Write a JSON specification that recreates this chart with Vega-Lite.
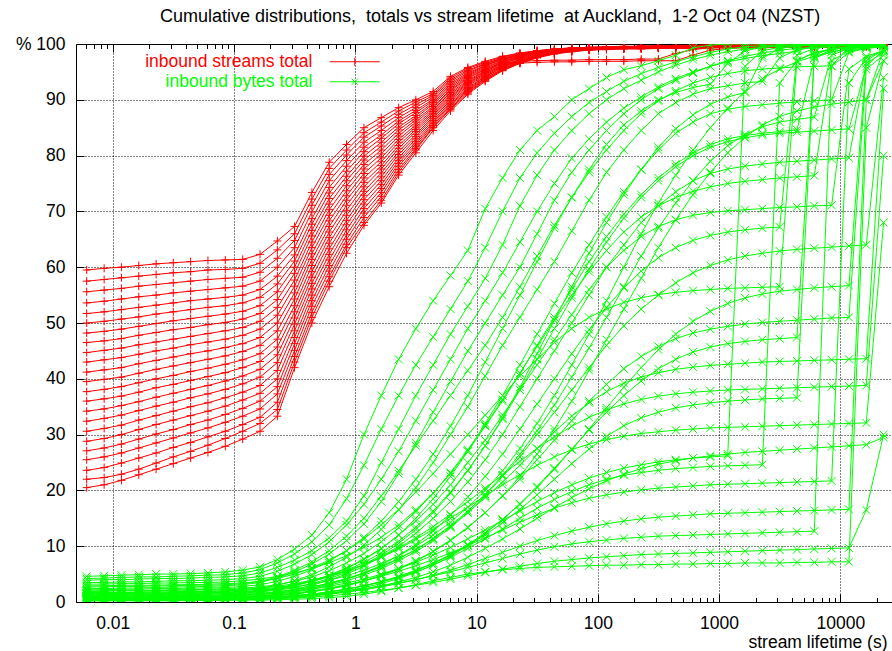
{
"$schema": "https://vega.github.io/schema/vega-lite/v6.json",
"width": 816, "height": 558,
"autosize": {"type": "none"},
"padding": {"left": 76, "top": 44, "right": 0, "bottom": 49},
"background": "white",
"config": {"view": {"stroke": null}, "font": "Liberation Sans"},
"title": {"text": "Cumulative distributions,\u00a0 totals vs stream lifetime\u00a0 at Auckland,\u00a0 1-2 Oct 04 (NZST)", "font": "Liberation Sans", "fontSize": 18, "fontWeight": "normal", "color": "#000", "anchor": "middle", "offset": 20, "baseline": "alphabetic", "dx": 6, "dy": 25},
"datasets": {
"streams": [
{"s":1,"x":0.0061,"y":20.5},{"s":1,"x":0.0085,"y":21},{"s":1,"x":0.0118,"y":21.8},{"s":1,"x":0.0164,"y":22.8},{"s":1,"x":0.0228,"y":23.8},{"s":1,"x":0.0316,"y":24.8},{"s":1,"x":0.0439,"y":25.8},{"s":1,"x":0.061,"y":26.8},{"s":1,"x":0.0848,"y":27.9},{"s":1,"x":0.118,"y":29.2},{"s":1,"x":0.164,"y":30.6},{"s":1,"x":0.228,"y":33.3},{"s":1,"x":0.316,"y":42},{"s":1,"x":0.439,"y":50},{"s":1,"x":0.61,"y":56.5},{"s":1,"x":0.848,"y":62.5},{"s":1,"x":1.18,"y":67.5},{"s":1,"x":1.64,"y":71.5},{"s":1,"x":2.28,"y":76.5},{"s":1,"x":3.16,"y":80.5},{"s":1,"x":4.39,"y":84.5},{"s":1,"x":6.1,"y":88},{"s":1,"x":8.48,"y":91},{"s":1,"x":11.8,"y":93.3},{"s":1,"x":16.4,"y":95.2},{"s":1,"x":22.8,"y":96.5},{"s":1,"x":31.6,"y":97.5},{"s":1,"x":43.9,"y":98.2},{"s":1,"x":61,"y":98.6},{"s":1,"x":84.8,"y":98.9},{"s":1,"x":118,"y":99},{"s":1,"x":164,"y":99.1},{"s":1,"x":228,"y":99.1},{"s":1,"x":316,"y":99.2},{"s":1,"x":439,"y":99.2},{"s":1,"x":610,"y":99.2},{"s":1,"x":848,"y":99.3},{"s":1,"x":1179,"y":99.3},{"s":1,"x":1638,"y":99.3},{"s":1,"x":2276,"y":99.3},{"s":1,"x":3162,"y":99.4},{"s":1,"x":4394,"y":99.4},{"s":1,"x":6105,"y":99.4},{"s":1,"x":8483,"y":99.4},{"s":1,"x":11788,"y":99.4},{"s":1,"x":16379,"y":99.5},{"s":1,"x":22758,"y":99.5},
{"s":2,"x":0.0061,"y":23.6},{"s":2,"x":0.0085,"y":24.1},{"s":2,"x":0.0118,"y":24.9},{"s":2,"x":0.0164,"y":25.8},{"s":2,"x":0.0228,"y":26.7},{"s":2,"x":0.0316,"y":27.7},{"s":2,"x":0.0439,"y":28.6},{"s":2,"x":0.061,"y":29.6},{"s":2,"x":0.0848,"y":30.6},{"s":2,"x":0.118,"y":31.8},{"s":2,"x":0.164,"y":33.1},{"s":2,"x":0.228,"y":35.8},{"s":2,"x":0.316,"y":44},{"s":2,"x":0.439,"y":51.9},{"s":2,"x":0.61,"y":58.3},{"s":2,"x":0.848,"y":64.1},{"s":2,"x":1.18,"y":68.9},{"s":2,"x":1.64,"y":72.7},{"s":2,"x":2.28,"y":77.5},{"s":2,"x":3.16,"y":81.3},{"s":2,"x":4.39,"y":85.1},{"s":2,"x":6.1,"y":88.5},{"s":2,"x":8.48,"y":91.4},{"s":2,"x":11.8,"y":93.6},{"s":2,"x":16.4,"y":95.4},{"s":2,"x":22.8,"y":96.7},{"s":2,"x":31.6,"y":97.6},{"s":2,"x":43.9,"y":98.3},{"s":2,"x":61,"y":98.7},{"s":2,"x":84.8,"y":98.9},{"s":2,"x":118,"y":99.1},{"s":2,"x":164,"y":99.2},{"s":2,"x":228,"y":99.2},{"s":2,"x":316,"y":99.3},{"s":2,"x":439,"y":99.3},{"s":2,"x":610,"y":99.4},{"s":2,"x":848,"y":99.4},{"s":2,"x":1179,"y":99.4},{"s":2,"x":1638,"y":99.5},{"s":2,"x":2276,"y":99.5},{"s":2,"x":3162,"y":99.5},{"s":2,"x":4394,"y":99.5},{"s":2,"x":6105,"y":99.6},{"s":2,"x":8483,"y":99.6},{"s":2,"x":11788,"y":99.6},{"s":2,"x":16379,"y":99.6},{"s":2,"x":22758,"y":99.6},
{"s":3,"x":0.0061,"y":27.1},{"s":3,"x":0.0085,"y":27.6},{"s":3,"x":0.0118,"y":28.3},{"s":3,"x":0.0164,"y":29.2},{"s":3,"x":0.0228,"y":30.1},{"s":3,"x":0.0316,"y":30.9},{"s":3,"x":0.0439,"y":31.8},{"s":3,"x":0.061,"y":32.6},{"s":3,"x":0.0848,"y":33.6},{"s":3,"x":0.118,"y":34.7},{"s":3,"x":0.164,"y":36},{"s":3,"x":0.228,"y":38.6},{"s":3,"x":0.316,"y":46.3},{"s":3,"x":0.439,"y":54},{"s":3,"x":0.61,"y":60.3},{"s":3,"x":0.848,"y":65.8},{"s":3,"x":1.18,"y":70.5},{"s":3,"x":1.64,"y":74.1},{"s":3,"x":2.28,"y":78.6},{"s":3,"x":3.16,"y":82.1},{"s":3,"x":4.39,"y":85.7},{"s":3,"x":6.1,"y":89.1},{"s":3,"x":8.48,"y":91.8},{"s":3,"x":11.8,"y":93.9},{"s":3,"x":16.4,"y":95.6},{"s":3,"x":22.8,"y":96.8},{"s":3,"x":31.6,"y":97.7},{"s":3,"x":43.9,"y":98.4},{"s":3,"x":61,"y":98.7},{"s":3,"x":84.8,"y":99},{"s":3,"x":118,"y":99.2},{"s":3,"x":164,"y":99.3},{"s":3,"x":228,"y":99.4},{"s":3,"x":316,"y":99.4},{"s":3,"x":439,"y":99.5},{"s":3,"x":610,"y":99.5},{"s":3,"x":848,"y":99.6},{"s":3,"x":1179,"y":99.6},{"s":3,"x":1638,"y":99.6},{"s":3,"x":2276,"y":99.7},{"s":3,"x":3162,"y":99.7},{"s":3,"x":4394,"y":99.7},{"s":3,"x":6105,"y":99.7},{"s":3,"x":8483,"y":99.8},{"s":3,"x":11788,"y":99.8},{"s":3,"x":16379,"y":99.8},{"s":3,"x":22758,"y":99.8},
{"s":4,"x":0.0061,"y":30.6},{"s":4,"x":0.0085,"y":31.1},{"s":4,"x":0.0118,"y":31.7},{"s":4,"x":0.0164,"y":32.6},{"s":4,"x":0.0228,"y":33.4},{"s":4,"x":0.0316,"y":34.2},{"s":4,"x":0.0439,"y":35},{"s":4,"x":0.061,"y":35.7},{"s":4,"x":0.0848,"y":36.6},{"s":4,"x":0.118,"y":37.6},{"s":4,"x":0.164,"y":38.8},{"s":4,"x":0.228,"y":41.5},{"s":4,"x":0.316,"y":48.6},{"s":4,"x":0.439,"y":56.1},{"s":4,"x":0.61,"y":62.3},{"s":4,"x":0.848,"y":67.6},{"s":4,"x":1.18,"y":72.1},{"s":4,"x":1.64,"y":75.5},{"s":4,"x":2.28,"y":79.6},{"s":4,"x":3.16,"y":83},{"s":4,"x":4.39,"y":86.3},{"s":4,"x":6.1,"y":89.6},{"s":4,"x":8.48,"y":92.2},{"s":4,"x":11.8,"y":94.2},{"s":4,"x":16.4,"y":95.9},{"s":4,"x":22.8,"y":97},{"s":4,"x":31.6,"y":97.8},{"s":4,"x":43.9,"y":98.4},{"s":4,"x":61,"y":98.8},{"s":4,"x":84.8,"y":99},{"s":4,"x":118,"y":99.1},{"s":4,"x":164,"y":99.2},{"s":4,"x":228,"y":99.3},{"s":4,"x":316,"y":99.3},{"s":4,"x":439,"y":99.4},{"s":4,"x":610,"y":99.4},{"s":4,"x":848,"y":99.5},{"s":4,"x":1179,"y":99.5},{"s":4,"x":1638,"y":99.5},{"s":4,"x":2276,"y":99.6},{"s":4,"x":3162,"y":99.6},{"s":4,"x":4394,"y":99.6},{"s":4,"x":6105,"y":99.6},{"s":4,"x":8483,"y":99.7},{"s":4,"x":11788,"y":99.7},{"s":4,"x":16379,"y":99.7},{"s":4,"x":22758,"y":99.7},
{"s":5,"x":0.0061,"y":34.2},{"s":5,"x":0.0085,"y":34.6},{"s":5,"x":0.0118,"y":35.2},{"s":5,"x":0.0164,"y":35.9},{"s":5,"x":0.0228,"y":36.7},{"s":5,"x":0.0316,"y":37.4},{"s":5,"x":0.0439,"y":38.1},{"s":5,"x":0.061,"y":38.8},{"s":5,"x":0.0848,"y":39.6},{"s":5,"x":0.118,"y":40.5},{"s":5,"x":0.164,"y":41.7},{"s":5,"x":0.228,"y":44.3},{"s":5,"x":0.316,"y":50.9},{"s":5,"x":0.439,"y":58.2},{"s":5,"x":0.61,"y":64.3},{"s":5,"x":0.848,"y":69.3},{"s":5,"x":1.18,"y":73.6},{"s":5,"x":1.64,"y":76.9},{"s":5,"x":2.28,"y":80.7},{"s":5,"x":3.16,"y":83.8},{"s":5,"x":4.39,"y":87},{"s":5,"x":6.1,"y":90.2},{"s":5,"x":8.48,"y":92.7},{"s":5,"x":11.8,"y":94.6},{"s":5,"x":16.4,"y":96.1},{"s":5,"x":22.8,"y":97.2},{"s":5,"x":31.6,"y":97.9},{"s":5,"x":43.9,"y":98.5},{"s":5,"x":61,"y":98.8},{"s":5,"x":84.8,"y":99.1},{"s":5,"x":118,"y":99.2},{"s":5,"x":164,"y":99.3},{"s":5,"x":228,"y":99.3},{"s":5,"x":316,"y":99.4},{"s":5,"x":439,"y":99.5},{"s":5,"x":610,"y":99.5},{"s":5,"x":848,"y":99.6},{"s":5,"x":1179,"y":99.6},{"s":5,"x":1638,"y":99.7},{"s":5,"x":2276,"y":99.7},{"s":5,"x":3162,"y":99.7},{"s":5,"x":4394,"y":99.8},{"s":5,"x":6105,"y":99.8},{"s":5,"x":8483,"y":99.8},{"s":5,"x":11788,"y":99.8},{"s":5,"x":16379,"y":99.9},{"s":5,"x":22758,"y":99.9},
{"s":6,"x":0.0061,"y":37.7},{"s":6,"x":0.0085,"y":38.1},{"s":6,"x":0.0118,"y":38.6},{"s":6,"x":0.0164,"y":39.3},{"s":6,"x":0.0228,"y":40},{"s":6,"x":0.0316,"y":40.6},{"s":6,"x":0.0439,"y":41.3},{"s":6,"x":0.061,"y":41.9},{"s":6,"x":0.0848,"y":42.6},{"s":6,"x":0.118,"y":43.4},{"s":6,"x":0.164,"y":44.5},{"s":6,"x":0.228,"y":47.1},{"s":6,"x":0.316,"y":53.1},{"s":6,"x":0.439,"y":60.3},{"s":6,"x":0.61,"y":66.3},{"s":6,"x":0.848,"y":71.1},{"s":6,"x":1.18,"y":75.2},{"s":6,"x":1.64,"y":78.2},{"s":6,"x":2.28,"y":81.8},{"s":6,"x":3.16,"y":84.7},{"s":6,"x":4.39,"y":87.6},{"s":6,"x":6.1,"y":90.7},{"s":6,"x":8.48,"y":93.1},{"s":6,"x":11.8,"y":94.9},{"s":6,"x":16.4,"y":96.3},{"s":6,"x":22.8,"y":96.6},{"s":6,"x":31.6,"y":96.7},{"s":6,"x":43.9,"y":96.8},{"s":6,"x":61,"y":96.8},{"s":6,"x":84.8,"y":96.9},{"s":6,"x":118,"y":96.9},{"s":6,"x":164,"y":96.9},{"s":6,"x":228,"y":97},{"s":6,"x":316,"y":97},{"s":6,"x":439,"y":97},{"s":6,"x":610,"y":98},{"s":6,"x":848,"y":98.9},{"s":6,"x":1179,"y":99.2},{"s":6,"x":1638,"y":99.4},{"s":6,"x":2276,"y":99.5},{"s":6,"x":3162,"y":99.5},{"s":6,"x":4394,"y":99.6},{"s":6,"x":6105,"y":99.6},{"s":6,"x":8483,"y":99.6},{"s":6,"x":11788,"y":99.7},{"s":6,"x":16379,"y":99.7},{"s":6,"x":22758,"y":99.7},
{"s":7,"x":0.0061,"y":41.2},{"s":7,"x":0.0085,"y":41.6},{"s":7,"x":0.0118,"y":42},{"s":7,"x":0.0164,"y":42.7},{"s":7,"x":0.0228,"y":43.3},{"s":7,"x":0.0316,"y":43.9},{"s":7,"x":0.0439,"y":44.5},{"s":7,"x":0.061,"y":45},{"s":7,"x":0.0848,"y":45.6},{"s":7,"x":0.118,"y":46.3},{"s":7,"x":0.164,"y":47.4},{"s":7,"x":0.228,"y":50},{"s":7,"x":0.316,"y":55.4},{"s":7,"x":0.439,"y":62.4},{"s":7,"x":0.61,"y":68.3},{"s":7,"x":0.848,"y":72.8},{"s":7,"x":1.18,"y":76.8},{"s":7,"x":1.64,"y":79.6},{"s":7,"x":2.28,"y":82.9},{"s":7,"x":3.16,"y":85.5},{"s":7,"x":4.39,"y":88.2},{"s":7,"x":6.1,"y":91.3},{"s":7,"x":8.48,"y":93.5},{"s":7,"x":11.8,"y":95.2},{"s":7,"x":16.4,"y":96.6},{"s":7,"x":22.8,"y":97.5},{"s":7,"x":31.6,"y":98.2},{"s":7,"x":43.9,"y":98.7},{"s":7,"x":61,"y":99},{"s":7,"x":84.8,"y":99.2},{"s":7,"x":118,"y":99.3},{"s":7,"x":164,"y":99.4},{"s":7,"x":228,"y":99.5},{"s":7,"x":316,"y":99.5},{"s":7,"x":439,"y":99.6},{"s":7,"x":610,"y":99.6},{"s":7,"x":848,"y":99.7},{"s":7,"x":1179,"y":99.7},{"s":7,"x":1638,"y":99.7},{"s":7,"x":2276,"y":99.8},{"s":7,"x":3162,"y":99.8},{"s":7,"x":4394,"y":99.8},{"s":7,"x":6105,"y":99.8},{"s":7,"x":8483,"y":99.9},{"s":7,"x":11788,"y":99.9},{"s":7,"x":16379,"y":99.9},{"s":7,"x":22758,"y":99.9},
{"s":8,"x":0.0061,"y":44.7},{"s":8,"x":0.0085,"y":45.1},{"s":8,"x":0.0118,"y":45.5},{"s":8,"x":0.0164,"y":46.1},{"s":8,"x":0.0228,"y":46.6},{"s":8,"x":0.0316,"y":47.1},{"s":8,"x":0.0439,"y":47.6},{"s":8,"x":0.061,"y":48.1},{"s":8,"x":0.0848,"y":48.6},{"s":8,"x":0.118,"y":49.2},{"s":8,"x":0.164,"y":50.3},{"s":8,"x":0.228,"y":52.8},{"s":8,"x":0.316,"y":57.7},{"s":8,"x":0.439,"y":64.5},{"s":8,"x":0.61,"y":70.3},{"s":8,"x":0.848,"y":74.6},{"s":8,"x":1.18,"y":78.4},{"s":8,"x":1.64,"y":81},{"s":8,"x":2.28,"y":84},{"s":8,"x":3.16,"y":86.4},{"s":8,"x":4.39,"y":88.8},{"s":8,"x":6.1,"y":91.8},{"s":8,"x":8.48,"y":94},{"s":8,"x":11.8,"y":95.5},{"s":8,"x":16.4,"y":96.6},{"s":8,"x":22.8,"y":96.9},{"s":8,"x":31.6,"y":97},{"s":8,"x":43.9,"y":97.1},{"s":8,"x":61,"y":97.1},{"s":8,"x":84.8,"y":97.2},{"s":8,"x":118,"y":97.2},{"s":8,"x":164,"y":97.2},{"s":8,"x":228,"y":97.3},{"s":8,"x":316,"y":97.3},{"s":8,"x":439,"y":98.3},{"s":8,"x":610,"y":99},{"s":8,"x":848,"y":99.3},{"s":8,"x":1179,"y":99.4},{"s":8,"x":1638,"y":99.5},{"s":8,"x":2276,"y":99.6},{"s":8,"x":3162,"y":99.6},{"s":8,"x":4394,"y":99.7},{"s":8,"x":6105,"y":99.7},{"s":8,"x":8483,"y":99.7},{"s":8,"x":11788,"y":99.8},{"s":8,"x":16379,"y":99.8},{"s":8,"x":22758,"y":99.8},
{"s":9,"x":0.0061,"y":48.2},{"s":9,"x":0.0085,"y":48.5},{"s":9,"x":0.0118,"y":48.9},{"s":9,"x":0.0164,"y":49.4},{"s":9,"x":0.0228,"y":49.9},{"s":9,"x":0.0316,"y":50.4},{"s":9,"x":0.0439,"y":50.8},{"s":9,"x":0.061,"y":51.2},{"s":9,"x":0.0848,"y":51.6},{"s":9,"x":0.118,"y":52.1},{"s":9,"x":0.164,"y":53.1},{"s":9,"x":0.228,"y":55.6},{"s":9,"x":0.316,"y":60},{"s":9,"x":0.439,"y":66.6},{"s":9,"x":0.61,"y":72.3},{"s":9,"x":0.848,"y":76.3},{"s":9,"x":1.18,"y":79.9},{"s":9,"x":1.64,"y":82.4},{"s":9,"x":2.28,"y":85.1},{"s":9,"x":3.16,"y":87.2},{"s":9,"x":4.39,"y":89.5},{"s":9,"x":6.1,"y":92.4},{"s":9,"x":8.48,"y":94.4},{"s":9,"x":11.8,"y":95.9},{"s":9,"x":16.4,"y":97},{"s":9,"x":22.8,"y":97.8},{"s":9,"x":31.6,"y":98.4},{"s":9,"x":43.9,"y":98.8},{"s":9,"x":61,"y":99.1},{"s":9,"x":84.8,"y":99.3},{"s":9,"x":118,"y":99.3},{"s":9,"x":164,"y":99.4},{"s":9,"x":228,"y":99.4},{"s":9,"x":316,"y":99.5},{"s":9,"x":439,"y":99.5},{"s":9,"x":610,"y":99.6},{"s":9,"x":848,"y":99.6},{"s":9,"x":1179,"y":99.6},{"s":9,"x":1638,"y":99.7},{"s":9,"x":2276,"y":99.7},{"s":9,"x":3162,"y":99.7},{"s":9,"x":4394,"y":99.7},{"s":9,"x":6105,"y":99.8},{"s":9,"x":8483,"y":99.8},{"s":9,"x":11788,"y":99.8},{"s":9,"x":16379,"y":99.8},{"s":9,"x":22758,"y":99.8},
{"s":10,"x":0.0061,"y":51.7},{"s":10,"x":0.0085,"y":52},{"s":10,"x":0.0118,"y":52.4},{"s":10,"x":0.0164,"y":52.8},{"s":10,"x":0.0228,"y":53.2},{"s":10,"x":0.0316,"y":53.6},{"s":10,"x":0.0439,"y":54},{"s":10,"x":0.061,"y":54.3},{"s":10,"x":0.0848,"y":54.6},{"s":10,"x":0.118,"y":55},{"s":10,"x":0.164,"y":56},{"s":10,"x":0.228,"y":58.4},{"s":10,"x":0.316,"y":62.2},{"s":10,"x":0.439,"y":68.7},{"s":10,"x":0.61,"y":74.3},{"s":10,"x":0.848,"y":78.1},{"s":10,"x":1.18,"y":81.5},{"s":10,"x":1.64,"y":83.7},{"s":10,"x":2.28,"y":86.2},{"s":10,"x":3.16,"y":88.1},{"s":10,"x":4.39,"y":90.1},{"s":10,"x":6.1,"y":93},{"s":10,"x":8.48,"y":94.8},{"s":10,"x":11.8,"y":96.2},{"s":10,"x":16.4,"y":97.3},{"s":10,"x":22.8,"y":98},{"s":10,"x":31.6,"y":98.5},{"s":10,"x":43.9,"y":98.9},{"s":10,"x":61,"y":99.2},{"s":10,"x":84.8,"y":99.3},{"s":10,"x":118,"y":99.4},{"s":10,"x":164,"y":99.5},{"s":10,"x":228,"y":99.5},{"s":10,"x":316,"y":99.6},{"s":10,"x":439,"y":99.6},{"s":10,"x":610,"y":99.7},{"s":10,"x":848,"y":99.7},{"s":10,"x":1179,"y":99.8},{"s":10,"x":1638,"y":99.8},{"s":10,"x":2276,"y":99.8},{"s":10,"x":3162,"y":99.8},{"s":10,"x":4394,"y":99.9},{"s":10,"x":6105,"y":99.9},{"s":10,"x":8483,"y":99.9},{"s":10,"x":11788,"y":99.9},{"s":10,"x":16379,"y":99.9},{"s":10,"x":22758,"y":99.9},
{"s":11,"x":0.0061,"y":55.6},{"s":11,"x":0.0085,"y":55.9},{"s":11,"x":0.0118,"y":56.2},{"s":11,"x":0.0164,"y":56.6},{"s":11,"x":0.0228,"y":56.9},{"s":11,"x":0.0316,"y":57.2},{"s":11,"x":0.0439,"y":57.5},{"s":11,"x":0.061,"y":57.8},{"s":11,"x":0.0848,"y":58},{"s":11,"x":0.118,"y":58.2},{"s":11,"x":0.164,"y":59.1},{"s":11,"x":0.228,"y":61.6},{"s":11,"x":0.316,"y":64.8},{"s":11,"x":0.439,"y":71.1},{"s":11,"x":0.61,"y":76.6},{"s":11,"x":0.848,"y":80.1},{"s":11,"x":1.18,"y":83.3},{"s":11,"x":1.64,"y":85.3},{"s":11,"x":2.28,"y":87.4},{"s":11,"x":3.16,"y":89.1},{"s":11,"x":4.39,"y":90.8},{"s":11,"x":6.1,"y":93.6},{"s":11,"x":8.48,"y":95.3},{"s":11,"x":11.8,"y":96.5},{"s":11,"x":16.4,"y":97.5},{"s":11,"x":22.8,"y":98.2},{"s":11,"x":31.6,"y":98.7},{"s":11,"x":43.9,"y":99},{"s":11,"x":61,"y":99.2},{"s":11,"x":84.8,"y":99.4},{"s":11,"x":118,"y":99.4},{"s":11,"x":164,"y":99.5},{"s":11,"x":228,"y":99.6},{"s":11,"x":316,"y":99.6},{"s":11,"x":439,"y":99.7},{"s":11,"x":610,"y":99.7},{"s":11,"x":848,"y":99.7},{"s":11,"x":1179,"y":99.8},{"s":11,"x":1638,"y":99.8},{"s":11,"x":2276,"y":99.8},{"s":11,"x":3162,"y":99.9},{"s":11,"x":4394,"y":99.9},{"s":11,"x":6105,"y":99.9},{"s":11,"x":8483,"y":99.9},{"s":11,"x":11788,"y":99.9},{"s":11,"x":16379,"y":100},{"s":11,"x":22758,"y":100},
{"s":12,"x":0.0061,"y":59.5},{"s":12,"x":0.0085,"y":59.8},{"s":12,"x":0.0118,"y":60},{"s":12,"x":0.0164,"y":60.3},{"s":12,"x":0.0228,"y":60.6},{"s":12,"x":0.0316,"y":60.8},{"s":12,"x":0.0439,"y":61},{"s":12,"x":0.061,"y":61.2},{"s":12,"x":0.0848,"y":61.3},{"s":12,"x":0.118,"y":61.4},{"s":12,"x":0.164,"y":62.3},{"s":12,"x":0.228,"y":64.7},{"s":12,"x":0.316,"y":67.3},{"s":12,"x":0.439,"y":73.4},{"s":12,"x":0.61,"y":78.8},{"s":12,"x":0.848,"y":82},{"s":12,"x":1.18,"y":85},{"s":12,"x":1.64,"y":86.8},{"s":12,"x":2.28,"y":88.6},{"s":12,"x":3.16,"y":90},{"s":12,"x":4.39,"y":91.5},{"s":12,"x":6.1,"y":94.2},{"s":12,"x":8.48,"y":95.8},{"s":12,"x":11.8,"y":96.9},{"s":12,"x":16.4,"y":97.8},{"s":12,"x":22.8,"y":98.4},{"s":12,"x":31.6,"y":98.8},{"s":12,"x":43.9,"y":99.1},{"s":12,"x":61,"y":99.3},{"s":12,"x":84.8,"y":99.4},{"s":12,"x":118,"y":99.5},{"s":12,"x":164,"y":99.5},{"s":12,"x":228,"y":99.6},{"s":12,"x":316,"y":99.6},{"s":12,"x":439,"y":99.7},{"s":12,"x":610,"y":99.7},{"s":12,"x":848,"y":99.8},{"s":12,"x":1179,"y":99.8},{"s":12,"x":1638,"y":99.8},{"s":12,"x":2276,"y":99.8},{"s":12,"x":3162,"y":99.8},{"s":12,"x":4394,"y":99.9},{"s":12,"x":6105,"y":99.9},{"s":12,"x":8483,"y":99.9},{"s":12,"x":11788,"y":99.9},{"s":12,"x":16379,"y":99.9},{"s":12,"x":22758,"y":99.9},
{"s":13,"x":0.0061,"y":22},{"s":13,"x":0.0085,"y":22.3},{"s":13,"x":0.0118,"y":22.9},{"s":13,"x":0.0164,"y":23.8},{"s":13,"x":0.0228,"y":24.9},{"s":13,"x":0.0316,"y":26},{"s":13,"x":0.0439,"y":27},{"s":13,"x":0.061,"y":28.1},{"s":13,"x":0.0848,"y":29.3},{"s":13,"x":0.118,"y":30.6},{"s":13,"x":0.164,"y":32},{"s":13,"x":0.228,"y":34.5},{"s":13,"x":0.316,"y":43},{"s":13,"x":0.439,"y":51},{"s":13,"x":0.61,"y":57.5},{"s":13,"x":0.848,"y":63.5},{"s":13,"x":1.18,"y":68},{"s":13,"x":1.64,"y":72},{"s":13,"x":2.28,"y":77},{"s":13,"x":3.16,"y":81},{"s":13,"x":4.39,"y":85},{"s":13,"x":6.1,"y":88.3},{"s":13,"x":8.48,"y":91.2},{"s":13,"x":11.8,"y":93.5},{"s":13,"x":16.4,"y":95.3},{"s":13,"x":22.8,"y":96.6},{"s":13,"x":31.6,"y":97.6},{"s":13,"x":43.9,"y":98.3},{"s":13,"x":61,"y":98.7},{"s":13,"x":84.8,"y":99},{"s":13,"x":118,"y":99.1},{"s":13,"x":164,"y":99.2},{"s":13,"x":228,"y":99.2},{"s":13,"x":316,"y":99.3},{"s":13,"x":439,"y":99.3},{"s":13,"x":610,"y":99.4},{"s":13,"x":848,"y":99.4},{"s":13,"x":1179,"y":99.4},{"s":13,"x":1638,"y":99.5},{"s":13,"x":2276,"y":99.5},{"s":13,"x":3162,"y":99.5},{"s":13,"x":4394,"y":99.5},{"s":13,"x":6105,"y":99.6},{"s":13,"x":8483,"y":99.6},{"s":13,"x":11788,"y":99.6},{"s":13,"x":16379,"y":99.6},{"s":13,"x":22758,"y":99.6},
{"s":14,"x":0.0061,"y":25.5},{"s":14,"x":0.0085,"y":26},{"s":14,"x":0.0118,"y":26.7},{"s":14,"x":0.0164,"y":27.6},{"s":14,"x":0.0228,"y":28.5},{"s":14,"x":0.0316,"y":29.4},{"s":14,"x":0.0439,"y":30.3},{"s":14,"x":0.061,"y":31.2},{"s":14,"x":0.0848,"y":32.2},{"s":14,"x":0.118,"y":33.3},{"s":14,"x":0.164,"y":34.6},{"s":14,"x":0.228,"y":37.3},{"s":14,"x":0.316,"y":45.1},{"s":14,"x":0.439,"y":53},{"s":14,"x":0.61,"y":59.3},{"s":14,"x":0.848,"y":65},{"s":14,"x":1.18,"y":69.7},{"s":14,"x":1.64,"y":73.4},{"s":14,"x":2.28,"y":78.1},{"s":14,"x":3.16,"y":81.7},{"s":14,"x":4.39,"y":85.4},{"s":14,"x":6.1,"y":88.8},{"s":14,"x":8.48,"y":91.6},{"s":14,"x":11.8,"y":93.8},{"s":14,"x":16.4,"y":95.5},{"s":14,"x":22.8,"y":96.8},{"s":14,"x":31.6,"y":97.7},{"s":14,"x":43.9,"y":98.3},{"s":14,"x":61,"y":98.7},{"s":14,"x":84.8,"y":99},{"s":14,"x":118,"y":99.1},{"s":14,"x":164,"y":99.2},{"s":14,"x":228,"y":99.3},{"s":14,"x":316,"y":99.3},{"s":14,"x":439,"y":99.4},{"s":14,"x":610,"y":99.4},{"s":14,"x":848,"y":99.5},{"s":14,"x":1179,"y":99.5},{"s":14,"x":1638,"y":99.5},{"s":14,"x":2276,"y":99.6},{"s":14,"x":3162,"y":99.6},{"s":14,"x":4394,"y":99.6},{"s":14,"x":6105,"y":99.6},{"s":14,"x":8483,"y":99.7},{"s":14,"x":11788,"y":99.7},{"s":14,"x":16379,"y":99.7},{"s":14,"x":22758,"y":99.7},
{"s":15,"x":0.0061,"y":28.8},{"s":15,"x":0.0085,"y":29.3},{"s":15,"x":0.0118,"y":30},{"s":15,"x":0.0164,"y":30.9},{"s":15,"x":0.0228,"y":31.8},{"s":15,"x":0.0316,"y":32.6},{"s":15,"x":0.0439,"y":33.4},{"s":15,"x":0.061,"y":34.2},{"s":15,"x":0.0848,"y":35.1},{"s":15,"x":0.118,"y":36.2},{"s":15,"x":0.164,"y":37.4},{"s":15,"x":0.228,"y":40},{"s":15,"x":0.316,"y":47.4},{"s":15,"x":0.439,"y":55},{"s":15,"x":0.61,"y":61.3},{"s":15,"x":0.848,"y":66.7},{"s":15,"x":1.18,"y":71.3},{"s":15,"x":1.64,"y":74.8},{"s":15,"x":2.28,"y":79.1},{"s":15,"x":3.16,"y":82.5},{"s":15,"x":4.39,"y":86},{"s":15,"x":6.1,"y":89.3},{"s":15,"x":8.48,"y":92},{"s":15,"x":11.8,"y":94.1},{"s":15,"x":16.4,"y":95.8},{"s":15,"x":22.8,"y":96.9},{"s":15,"x":31.6,"y":97.8},{"s":15,"x":43.9,"y":98.4},{"s":15,"x":61,"y":98.8},{"s":15,"x":84.8,"y":99},{"s":15,"x":118,"y":99.2},{"s":15,"x":164,"y":99.3},{"s":15,"x":228,"y":99.4},{"s":15,"x":316,"y":99.4},{"s":15,"x":439,"y":99.5},{"s":15,"x":610,"y":99.5},{"s":15,"x":848,"y":99.6},{"s":15,"x":1179,"y":99.6},{"s":15,"x":1638,"y":99.6},{"s":15,"x":2276,"y":99.7},{"s":15,"x":3162,"y":99.7},{"s":15,"x":4394,"y":99.7},{"s":15,"x":6105,"y":99.7},{"s":15,"x":8483,"y":99.8},{"s":15,"x":11788,"y":99.8},{"s":15,"x":16379,"y":99.8},{"s":15,"x":22758,"y":99.8},
{"s":16,"x":0.0061,"y":32.4},{"s":16,"x":0.0085,"y":32.9},{"s":16,"x":0.0118,"y":33.5},{"s":16,"x":0.0164,"y":34.3},{"s":16,"x":0.0228,"y":35.1},{"s":16,"x":0.0316,"y":35.8},{"s":16,"x":0.0439,"y":36.6},{"s":16,"x":0.061,"y":37.3},{"s":16,"x":0.0848,"y":38.1},{"s":16,"x":0.118,"y":39.1},{"s":16,"x":0.164,"y":40.3},{"s":16,"x":0.228,"y":42.9},{"s":16,"x":0.316,"y":49.8},{"s":16,"x":0.439,"y":57.1},{"s":16,"x":0.61,"y":63.3},{"s":16,"x":0.848,"y":68.4},{"s":16,"x":1.18,"y":72.9},{"s":16,"x":1.64,"y":76.2},{"s":16,"x":2.28,"y":80.2},{"s":16,"x":3.16,"y":83.4},{"s":16,"x":4.39,"y":86.7},{"s":16,"x":6.1,"y":89.9},{"s":16,"x":8.48,"y":92.5},{"s":16,"x":11.8,"y":94.4},{"s":16,"x":16.4,"y":96},{"s":16,"x":22.8,"y":97.1},{"s":16,"x":31.6,"y":97.9},{"s":16,"x":43.9,"y":98.5},{"s":16,"x":61,"y":98.8},{"s":16,"x":84.8,"y":99.1},{"s":16,"x":118,"y":99.2},{"s":16,"x":164,"y":99.3},{"s":16,"x":228,"y":99.3},{"s":16,"x":316,"y":99.4},{"s":16,"x":439,"y":99.5},{"s":16,"x":610,"y":99.5},{"s":16,"x":848,"y":99.6},{"s":16,"x":1179,"y":99.6},{"s":16,"x":1638,"y":99.7},{"s":16,"x":2276,"y":99.7},{"s":16,"x":3162,"y":99.7},{"s":16,"x":4394,"y":99.8},{"s":16,"x":6105,"y":99.8},{"s":16,"x":8483,"y":99.8},{"s":16,"x":11788,"y":99.8},{"s":16,"x":16379,"y":99.9},{"s":16,"x":22758,"y":99.9},
{"s":17,"x":0.0061,"y":36},{"s":17,"x":0.0085,"y":36.4},{"s":17,"x":0.0118,"y":36.9},{"s":17,"x":0.0164,"y":37.6},{"s":17,"x":0.0228,"y":38.4},{"s":17,"x":0.0316,"y":39},{"s":17,"x":0.0439,"y":39.7},{"s":17,"x":0.061,"y":40.4},{"s":17,"x":0.0848,"y":41.1},{"s":17,"x":0.118,"y":42},{"s":17,"x":0.164,"y":43.1},{"s":17,"x":0.228,"y":45.7},{"s":17,"x":0.316,"y":52},{"s":17,"x":0.439,"y":59.2},{"s":17,"x":0.61,"y":65.3},{"s":17,"x":0.848,"y":70.2},{"s":17,"x":1.18,"y":74.4},{"s":17,"x":1.64,"y":77.6},{"s":17,"x":2.28,"y":81.3},{"s":17,"x":3.16,"y":84.3},{"s":17,"x":4.39,"y":87.3},{"s":17,"x":6.1,"y":90.5},{"s":17,"x":8.48,"y":92.9},{"s":17,"x":11.8,"y":94.8},{"s":17,"x":16.4,"y":96.2},{"s":17,"x":22.8,"y":97.2},{"s":17,"x":31.6,"y":98},{"s":17,"x":43.9,"y":98.6},{"s":17,"x":61,"y":98.9},{"s":17,"x":84.8,"y":99.1},{"s":17,"x":118,"y":99.3},{"s":17,"x":164,"y":99.4},{"s":17,"x":228,"y":99.4},{"s":17,"x":316,"y":99.5},{"s":17,"x":439,"y":99.5},{"s":17,"x":610,"y":99.6},{"s":17,"x":848,"y":99.6},{"s":17,"x":1179,"y":99.6},{"s":17,"x":1638,"y":99.7},{"s":17,"x":2276,"y":99.7},{"s":17,"x":3162,"y":99.7},{"s":17,"x":4394,"y":99.7},{"s":17,"x":6105,"y":99.8},{"s":17,"x":8483,"y":99.8},{"s":17,"x":11788,"y":99.8},{"s":17,"x":16379,"y":99.8},{"s":17,"x":22758,"y":99.8},
{"s":18,"x":0.0061,"y":39.5},{"s":18,"x":0.0085,"y":39.9},{"s":18,"x":0.0118,"y":40.3},{"s":18,"x":0.0164,"y":41},{"s":18,"x":0.0228,"y":41.7},{"s":18,"x":0.0316,"y":42.3},{"s":18,"x":0.0439,"y":42.9},{"s":18,"x":0.061,"y":43.5},{"s":18,"x":0.0848,"y":44.1},{"s":18,"x":0.118,"y":44.9},{"s":18,"x":0.164,"y":46},{"s":18,"x":0.228,"y":48.6},{"s":18,"x":0.316,"y":54.3},{"s":18,"x":0.439,"y":61.4},{"s":18,"x":0.61,"y":67.3},{"s":18,"x":0.848,"y":72},{"s":18,"x":1.18,"y":76},{"s":18,"x":1.64,"y":78.9},{"s":18,"x":2.28,"y":82.4},{"s":18,"x":3.16,"y":85.1},{"s":18,"x":4.39,"y":87.9},{"s":18,"x":6.1,"y":91},{"s":18,"x":8.48,"y":93.3},{"s":18,"x":11.8,"y":95.1},{"s":18,"x":16.4,"y":96.5},{"s":18,"x":22.8,"y":97.4},{"s":18,"x":31.6,"y":98.1},{"s":18,"x":43.9,"y":98.6},{"s":18,"x":61,"y":98.9},{"s":18,"x":84.8,"y":99.1},{"s":18,"x":118,"y":99.3},{"s":18,"x":164,"y":99.4},{"s":18,"x":228,"y":99.5},{"s":18,"x":316,"y":99.5},{"s":18,"x":439,"y":99.6},{"s":18,"x":610,"y":99.6},{"s":18,"x":848,"y":99.7},{"s":18,"x":1179,"y":99.7},{"s":18,"x":1638,"y":99.7},{"s":18,"x":2276,"y":99.8},{"s":18,"x":3162,"y":99.8},{"s":18,"x":4394,"y":99.8},{"s":18,"x":6105,"y":99.8},{"s":18,"x":8483,"y":99.9},{"s":18,"x":11788,"y":99.9},{"s":18,"x":16379,"y":99.9},{"s":18,"x":22758,"y":99.9},
{"s":19,"x":0.0061,"y":43},{"s":19,"x":0.0085,"y":43.4},{"s":19,"x":0.0118,"y":43.8},{"s":19,"x":0.0164,"y":44.4},{"s":19,"x":0.0228,"y":45},{"s":19,"x":0.0316,"y":45.5},{"s":19,"x":0.0439,"y":46.1},{"s":19,"x":0.061,"y":46.6},{"s":19,"x":0.0848,"y":47.1},{"s":19,"x":0.118,"y":47.8},{"s":19,"x":0.164,"y":48.9},{"s":19,"x":0.228,"y":51.4},{"s":19,"x":0.316,"y":56.6},{"s":19,"x":0.439,"y":63.5},{"s":19,"x":0.61,"y":69.3},{"s":19,"x":0.848,"y":73.7},{"s":19,"x":1.18,"y":77.6},{"s":19,"x":1.64,"y":80.3},{"s":19,"x":2.28,"y":83.5},{"s":19,"x":3.16,"y":86},{"s":19,"x":4.39,"y":88.5},{"s":19,"x":6.1,"y":91.6},{"s":19,"x":8.48,"y":93.8},{"s":19,"x":11.8,"y":95.4},{"s":19,"x":16.4,"y":96.8},{"s":19,"x":22.8,"y":97.6},{"s":19,"x":31.6,"y":98.3},{"s":19,"x":43.9,"y":98.8},{"s":19,"x":61,"y":99},{"s":19,"x":84.8,"y":99.2},{"s":19,"x":118,"y":99.4},{"s":19,"x":164,"y":99.5},{"s":19,"x":228,"y":99.5},{"s":19,"x":316,"y":99.6},{"s":19,"x":439,"y":99.6},{"s":19,"x":610,"y":99.7},{"s":19,"x":848,"y":99.7},{"s":19,"x":1179,"y":99.8},{"s":19,"x":1638,"y":99.8},{"s":19,"x":2276,"y":99.8},{"s":19,"x":3162,"y":99.8},{"s":19,"x":4394,"y":99.9},{"s":19,"x":6105,"y":99.9},{"s":19,"x":8483,"y":99.9},{"s":19,"x":11788,"y":99.9},{"s":19,"x":16379,"y":99.9},{"s":19,"x":22758,"y":99.9},
{"s":20,"x":0.0061,"y":46.5},{"s":20,"x":0.0085,"y":46.8},{"s":20,"x":0.0118,"y":47.2},{"s":20,"x":0.0164,"y":47.8},{"s":20,"x":0.0228,"y":48.3},{"s":20,"x":0.0316,"y":48.8},{"s":20,"x":0.0439,"y":49.2},{"s":20,"x":0.061,"y":49.7},{"s":20,"x":0.0848,"y":50.1},{"s":20,"x":0.118,"y":50.7},{"s":20,"x":0.164,"y":51.7},{"s":20,"x":0.228,"y":54.2},{"s":20,"x":0.316,"y":58.9},{"s":20,"x":0.439,"y":65.6},{"s":20,"x":0.61,"y":71.3},{"s":20,"x":0.848,"y":75.5},{"s":20,"x":1.18,"y":79.2},{"s":20,"x":1.64,"y":81.7},{"s":20,"x":2.28,"y":84.6},{"s":20,"x":3.16,"y":86.8},{"s":20,"x":4.39,"y":89.2},{"s":20,"x":6.1,"y":92.1},{"s":20,"x":8.48,"y":94.2},{"s":20,"x":11.8,"y":95.7},{"s":20,"x":16.4,"y":96.9},{"s":20,"x":22.8,"y":97.7},{"s":20,"x":31.6,"y":98.4},{"s":20,"x":43.9,"y":98.8},{"s":20,"x":61,"y":99.1},{"s":20,"x":84.8,"y":99.2},{"s":20,"x":118,"y":99.4},{"s":20,"x":164,"y":99.5},{"s":20,"x":228,"y":99.6},{"s":20,"x":316,"y":99.6},{"s":20,"x":439,"y":99.7},{"s":20,"x":610,"y":99.7},{"s":20,"x":848,"y":99.7},{"s":20,"x":1179,"y":99.8},{"s":20,"x":1638,"y":99.8},{"s":20,"x":2276,"y":99.8},{"s":20,"x":3162,"y":99.9},{"s":20,"x":4394,"y":99.9},{"s":20,"x":6105,"y":99.9},{"s":20,"x":8483,"y":99.9},{"s":20,"x":11788,"y":99.9},{"s":20,"x":16379,"y":100},{"s":20,"x":22758,"y":100},
{"s":21,"x":0.0061,"y":50},{"s":21,"x":0.0085,"y":50.3},{"s":21,"x":0.0118,"y":50.7},{"s":21,"x":0.0164,"y":51.1},{"s":21,"x":0.0228,"y":51.6},{"s":21,"x":0.0316,"y":52},{"s":21,"x":0.0439,"y":52.4},{"s":21,"x":0.061,"y":52.8},{"s":21,"x":0.0848,"y":53.1},{"s":21,"x":0.118,"y":53.6},{"s":21,"x":0.164,"y":54.6},{"s":21,"x":0.228,"y":57},{"s":21,"x":0.316,"y":61.1},{"s":21,"x":0.439,"y":67.7},{"s":21,"x":0.61,"y":73.3},{"s":21,"x":0.848,"y":77.2},{"s":21,"x":1.18,"y":80.7},{"s":21,"x":1.64,"y":83.1},{"s":21,"x":2.28,"y":85.7},{"s":21,"x":3.16,"y":87.7},{"s":21,"x":4.39,"y":89.8},{"s":21,"x":6.1,"y":92.7},{"s":21,"x":8.48,"y":94.6},{"s":21,"x":11.8,"y":96.1},{"s":21,"x":16.4,"y":97.2},{"s":21,"x":22.8,"y":97.9},{"s":21,"x":31.6,"y":98.5},{"s":21,"x":43.9,"y":98.9},{"s":21,"x":61,"y":99.2},{"s":21,"x":84.8,"y":99.3},{"s":21,"x":118,"y":99.5},{"s":21,"x":164,"y":99.5},{"s":21,"x":228,"y":99.6},{"s":21,"x":316,"y":99.6},{"s":21,"x":439,"y":99.7},{"s":21,"x":610,"y":99.7},{"s":21,"x":848,"y":99.8},{"s":21,"x":1179,"y":99.8},{"s":21,"x":1638,"y":99.8},{"s":21,"x":2276,"y":99.8},{"s":21,"x":3162,"y":99.8},{"s":21,"x":4394,"y":99.9},{"s":21,"x":6105,"y":99.9},{"s":21,"x":8483,"y":99.9},{"s":21,"x":11788,"y":99.9},{"s":21,"x":16379,"y":99.9},{"s":21,"x":22758,"y":99.9},
{"s":22,"x":0.0061,"y":53.6},{"s":22,"x":0.0085,"y":53.9},{"s":22,"x":0.0118,"y":54.3},{"s":22,"x":0.0164,"y":54.7},{"s":22,"x":0.0228,"y":55},{"s":22,"x":0.0316,"y":55.4},{"s":22,"x":0.0439,"y":55.7},{"s":22,"x":0.061,"y":56},{"s":22,"x":0.0848,"y":56.3},{"s":22,"x":0.118,"y":56.6},{"s":22,"x":0.164,"y":57.5},{"s":22,"x":0.228,"y":60},{"s":22,"x":0.316,"y":63.5},{"s":22,"x":0.439,"y":69.9},{"s":22,"x":0.61,"y":75.5},{"s":22,"x":0.848,"y":79.1},{"s":22,"x":1.18,"y":82.4},{"s":22,"x":1.64,"y":84.5},{"s":22,"x":2.28,"y":86.8},{"s":22,"x":3.16,"y":88.6},{"s":22,"x":4.39,"y":90.5},{"s":22,"x":6.1,"y":93.3},{"s":22,"x":8.48,"y":95.1},{"s":22,"x":11.8,"y":96.4},{"s":22,"x":16.4,"y":97.4},{"s":22,"x":22.8,"y":98.1},{"s":22,"x":31.6,"y":98.6},{"s":22,"x":43.9,"y":99},{"s":22,"x":61,"y":99.2},{"s":22,"x":84.8,"y":99.3},{"s":22,"x":118,"y":99.4},{"s":22,"x":164,"y":99.4},{"s":22,"x":228,"y":99.5},{"s":22,"x":316,"y":99.5},{"s":22,"x":439,"y":99.5},{"s":22,"x":610,"y":99.6},{"s":22,"x":848,"y":99.6},{"s":22,"x":1179,"y":99.6},{"s":22,"x":1638,"y":99.6},{"s":22,"x":2276,"y":99.7},{"s":22,"x":3162,"y":99.7},{"s":22,"x":4394,"y":99.7},{"s":22,"x":6105,"y":99.7},{"s":22,"x":8483,"y":99.7},{"s":22,"x":11788,"y":99.8},{"s":22,"x":16379,"y":99.8},{"s":22,"x":22758,"y":99.8},
{"s":23,"x":0.0061,"y":57.5},{"s":23,"x":0.0085,"y":57.8},{"s":23,"x":0.0118,"y":58.1},{"s":23,"x":0.0164,"y":58.4},{"s":23,"x":0.0228,"y":58.7},{"s":23,"x":0.0316,"y":59},{"s":23,"x":0.0439,"y":59.2},{"s":23,"x":0.061,"y":59.5},{"s":23,"x":0.0848,"y":59.6},{"s":23,"x":0.118,"y":59.8},{"s":23,"x":0.164,"y":60.7},{"s":23,"x":0.228,"y":63.1},{"s":23,"x":0.316,"y":66},{"s":23,"x":0.439,"y":72.2},{"s":23,"x":0.61,"y":77.7},{"s":23,"x":0.848,"y":81},{"s":23,"x":1.18,"y":84.1},{"s":23,"x":1.64,"y":86},{"s":23,"x":2.28,"y":88},{"s":23,"x":3.16,"y":89.6},{"s":23,"x":4.39,"y":91.1},{"s":23,"x":6.1,"y":93.9},{"s":23,"x":8.48,"y":95.6},{"s":23,"x":11.8,"y":96.7},{"s":23,"x":16.4,"y":97.7},{"s":23,"x":22.8,"y":98.3},{"s":23,"x":31.6,"y":98.8},{"s":23,"x":43.9,"y":99.1},{"s":23,"x":61,"y":99.3},{"s":23,"x":84.8,"y":99.4},{"s":23,"x":118,"y":99.5},{"s":23,"x":164,"y":99.6},{"s":23,"x":228,"y":99.6},{"s":23,"x":316,"y":99.7},{"s":23,"x":439,"y":99.7},{"s":23,"x":610,"y":99.8},{"s":23,"x":848,"y":99.8},{"s":23,"x":1179,"y":99.8},{"s":23,"x":1638,"y":99.9},{"s":23,"x":2276,"y":99.9},{"s":23,"x":3162,"y":99.9},{"s":23,"x":4394,"y":99.9},{"s":23,"x":6105,"y":99.9},{"s":23,"x":8483,"y":100},{"s":23,"x":11788,"y":100},{"s":23,"x":16379,"y":100},{"s":23,"x":22758,"y":100}
],
"bytes": [
{"s":1,"x":0.0061,"y":4.6},{"s":1,"x":0.0085,"y":4.7},{"s":1,"x":0.0118,"y":4.8},{"s":1,"x":0.0164,"y":4.9},{"s":1,"x":0.0228,"y":5},{"s":1,"x":0.0316,"y":5},{"s":1,"x":0.0439,"y":5.1},{"s":1,"x":0.061,"y":5.2},{"s":1,"x":0.0848,"y":5.4},{"s":1,"x":0.118,"y":5.7},{"s":1,"x":0.164,"y":6.3},{"s":1,"x":0.228,"y":7.6},{"s":1,"x":0.316,"y":9.5},{"s":1,"x":0.439,"y":12},{"s":1,"x":0.61,"y":16},{"s":1,"x":0.848,"y":22},{"s":1,"x":1.18,"y":30},{"s":1,"x":1.64,"y":37},{"s":1,"x":2.28,"y":43.5},{"s":1,"x":3.16,"y":49},{"s":1,"x":4.39,"y":54},{"s":1,"x":6.1,"y":58.5},{"s":1,"x":8.48,"y":63},{"s":1,"x":11.8,"y":70.5},{"s":1,"x":16.4,"y":76},{"s":1,"x":22.8,"y":81},{"s":1,"x":31.6,"y":84.5},{"s":1,"x":43.9,"y":87},{"s":1,"x":61,"y":90},{"s":1,"x":84.8,"y":92},{"s":1,"x":118,"y":94},{"s":1,"x":164,"y":95.4},{"s":1,"x":228,"y":96.1},{"s":1,"x":316,"y":97},{"s":1,"x":439,"y":98},{"s":1,"x":610,"y":99.3},{"s":1,"x":848,"y":99.8},{"s":1,"x":1179,"y":100},{"s":1,"x":1638,"y":100},{"s":1,"x":2276,"y":100},{"s":1,"x":3162,"y":100},{"s":1,"x":4394,"y":100},{"s":1,"x":6105,"y":100},{"s":1,"x":8483,"y":100},{"s":1,"x":11788,"y":100},{"s":1,"x":16379,"y":100},{"s":1,"x":22758,"y":100},
{"s":2,"x":0.0061,"y":3.9},{"s":2,"x":0.0085,"y":4},{"s":2,"x":0.0118,"y":4},{"s":2,"x":0.0164,"y":4.1},{"s":2,"x":0.0228,"y":4.2},{"s":2,"x":0.0316,"y":4.2},{"s":2,"x":0.0439,"y":4.3},{"s":2,"x":0.061,"y":4.4},{"s":2,"x":0.0848,"y":4.5},{"s":2,"x":0.118,"y":4.7},{"s":2,"x":0.164,"y":5.2},{"s":2,"x":0.228,"y":6.2},{"s":2,"x":0.316,"y":7.5},{"s":2,"x":0.439,"y":9.2},{"s":2,"x":0.61,"y":11.5},{"s":2,"x":0.848,"y":14.5},{"s":2,"x":1.18,"y":19},{"s":2,"x":1.64,"y":25},{"s":2,"x":2.28,"y":31},{"s":2,"x":3.16,"y":37},{"s":2,"x":4.39,"y":42.5},{"s":2,"x":6.1,"y":48},{"s":2,"x":8.48,"y":53},{"s":2,"x":11.8,"y":58},{"s":2,"x":16.4,"y":64},{"s":2,"x":22.8,"y":71},{"s":2,"x":31.6,"y":76.5},{"s":2,"x":43.9,"y":81},{"s":2,"x":61,"y":84.5},{"s":2,"x":84.8,"y":87.5},{"s":2,"x":118,"y":90},{"s":2,"x":164,"y":92},{"s":2,"x":228,"y":93.5},{"s":2,"x":316,"y":95},{"s":2,"x":439,"y":96.2},{"s":2,"x":610,"y":97.2},{"s":2,"x":848,"y":98},{"s":2,"x":1179,"y":98.6},{"s":2,"x":1638,"y":99.1},{"s":2,"x":2276,"y":99.4},{"s":2,"x":3162,"y":99.6},{"s":2,"x":4394,"y":99.7},{"s":2,"x":6105,"y":99.8},{"s":2,"x":8483,"y":99.8},{"s":2,"x":11788,"y":99.9},{"s":2,"x":16379,"y":99.9},{"s":2,"x":22758,"y":99.9},
{"s":3,"x":0.0061,"y":2.4},{"s":3,"x":0.0085,"y":2.4},{"s":3,"x":0.0118,"y":2.5},{"s":3,"x":0.0164,"y":2.5},{"s":3,"x":0.0228,"y":2.6},{"s":3,"x":0.0316,"y":2.7},{"s":3,"x":0.0439,"y":2.7},{"s":3,"x":0.061,"y":2.8},{"s":3,"x":0.0848,"y":2.9},{"s":3,"x":0.118,"y":3.1},{"s":3,"x":0.164,"y":3.5},{"s":3,"x":0.228,"y":4.3},{"s":3,"x":0.316,"y":5.4},{"s":3,"x":0.439,"y":6.8},{"s":3,"x":0.61,"y":8.6},{"s":3,"x":0.848,"y":11},{"s":3,"x":1.18,"y":14},{"s":3,"x":1.64,"y":18},{"s":3,"x":2.28,"y":23},{"s":3,"x":3.16,"y":28.5},{"s":3,"x":4.39,"y":34},{"s":3,"x":6.1,"y":39.5},{"s":3,"x":8.48,"y":45},{"s":3,"x":11.8,"y":50},{"s":3,"x":16.4,"y":55},{"s":3,"x":22.8,"y":60},{"s":3,"x":31.6,"y":66},{"s":3,"x":43.9,"y":72},{"s":3,"x":61,"y":77},{"s":3,"x":84.8,"y":81},{"s":3,"x":118,"y":84.5},{"s":3,"x":164,"y":87.5},{"s":3,"x":228,"y":90},{"s":3,"x":316,"y":92},{"s":3,"x":439,"y":93.5},{"s":3,"x":610,"y":94.8},{"s":3,"x":848,"y":96},{"s":3,"x":1179,"y":97},{"s":3,"x":1638,"y":97.8},{"s":3,"x":2276,"y":98.4},{"s":3,"x":3162,"y":98.9},{"s":3,"x":4394,"y":99.2},{"s":3,"x":6105,"y":99.4},{"s":3,"x":8483,"y":99.6},{"s":3,"x":11788,"y":99.7},{"s":3,"x":16379,"y":99.8},{"s":3,"x":22758,"y":99.8},
{"s":4,"x":0.0061,"y":1.6},{"s":4,"x":0.0085,"y":1.6},{"s":4,"x":0.0118,"y":1.7},{"s":4,"x":0.0164,"y":1.7},{"s":4,"x":0.0228,"y":1.8},{"s":4,"x":0.0316,"y":1.8},{"s":4,"x":0.0439,"y":1.9},{"s":4,"x":0.061,"y":1.9},{"s":4,"x":0.0848,"y":2},{"s":4,"x":0.118,"y":2.2},{"s":4,"x":0.164,"y":2.5},{"s":4,"x":0.228,"y":3},{"s":4,"x":0.316,"y":3.8},{"s":4,"x":0.439,"y":4.9},{"s":4,"x":0.61,"y":6.3},{"s":4,"x":0.848,"y":8},{"s":4,"x":1.18,"y":10.2},{"s":4,"x":1.64,"y":13},{"s":4,"x":2.28,"y":16.5},{"s":4,"x":3.16,"y":20.5},{"s":4,"x":4.39,"y":25},{"s":4,"x":6.1,"y":30},{"s":4,"x":8.48,"y":35},{"s":4,"x":11.8,"y":40.5},{"s":4,"x":16.4,"y":46},{"s":4,"x":22.8,"y":51},{"s":4,"x":31.6,"y":56},{"s":4,"x":43.9,"y":61},{"s":4,"x":61,"y":66.5},{"s":4,"x":84.8,"y":72},{"s":4,"x":118,"y":77},{"s":4,"x":164,"y":81},{"s":4,"x":228,"y":84.5},{"s":4,"x":316,"y":87.5},{"s":4,"x":439,"y":89.5},{"s":4,"x":610,"y":91},{"s":4,"x":848,"y":92},{"s":4,"x":1179,"y":92.5},{"s":4,"x":1638,"y":93},{"s":4,"x":2276,"y":93.3},{"s":4,"x":3162,"y":97.5},{"s":4,"x":4394,"y":99},{"s":4,"x":6105,"y":99.4},{"s":4,"x":8483,"y":99.6},{"s":4,"x":11788,"y":99.7},{"s":4,"x":16379,"y":99.8},{"s":4,"x":22758,"y":99.9},
{"s":5,"x":0.0061,"y":1.1},{"s":5,"x":0.0085,"y":1.1},{"s":5,"x":0.0118,"y":1.2},{"s":5,"x":0.0164,"y":1.2},{"s":5,"x":0.0228,"y":1.2},{"s":5,"x":0.0316,"y":1.3},{"s":5,"x":0.0439,"y":1.3},{"s":5,"x":0.061,"y":1.4},{"s":5,"x":0.0848,"y":1.5},{"s":5,"x":0.118,"y":1.6},{"s":5,"x":0.164,"y":1.9},{"s":5,"x":0.228,"y":2.3},{"s":5,"x":0.316,"y":2.9},{"s":5,"x":0.439,"y":3.7},{"s":5,"x":0.61,"y":4.7},{"s":5,"x":0.848,"y":6},{"s":5,"x":1.18,"y":7.6},{"s":5,"x":1.64,"y":9.5},{"s":5,"x":2.28,"y":12},{"s":5,"x":3.16,"y":15},{"s":5,"x":4.39,"y":18.5},{"s":5,"x":6.1,"y":22.5},{"s":5,"x":8.48,"y":27},{"s":5,"x":11.8,"y":32},{"s":5,"x":16.4,"y":37},{"s":5,"x":22.8,"y":42.5},{"s":5,"x":31.6,"y":48},{"s":5,"x":43.9,"y":53.5},{"s":5,"x":61,"y":59},{"s":5,"x":84.8,"y":64},{"s":5,"x":118,"y":69},{"s":5,"x":164,"y":73.5},{"s":5,"x":228,"y":77.5},{"s":5,"x":316,"y":81},{"s":5,"x":439,"y":84},{"s":5,"x":610,"y":86},{"s":5,"x":848,"y":87.5},{"s":5,"x":1179,"y":88.3},{"s":5,"x":1638,"y":88.8},{"s":5,"x":2276,"y":89.1},{"s":5,"x":3162,"y":89.4},{"s":5,"x":4394,"y":89.6},{"s":5,"x":6105,"y":89.8},{"s":5,"x":8483,"y":90},{"s":5,"x":11788,"y":98.5},{"s":5,"x":16379,"y":99.4},{"s":5,"x":22758,"y":99.7},
{"s":6,"x":0.0061,"y":3.2},{"s":6,"x":0.0085,"y":3.2},{"s":6,"x":0.0118,"y":3.3},{"s":6,"x":0.0164,"y":3.3},{"s":6,"x":0.0228,"y":3.4},{"s":6,"x":0.0316,"y":3.4},{"s":6,"x":0.0439,"y":3.5},{"s":6,"x":0.061,"y":3.5},{"s":6,"x":0.0848,"y":3.6},{"s":6,"x":0.118,"y":3.8},{"s":6,"x":0.164,"y":4.1},{"s":6,"x":0.228,"y":4.6},{"s":6,"x":0.316,"y":5.2},{"s":6,"x":0.439,"y":6},{"s":6,"x":0.61,"y":7},{"s":6,"x":0.848,"y":8.3},{"s":6,"x":1.18,"y":9.8},{"s":6,"x":1.64,"y":11.6},{"s":6,"x":2.28,"y":13.8},{"s":6,"x":3.16,"y":16.5},{"s":6,"x":4.39,"y":19.5},{"s":6,"x":6.1,"y":23},{"s":6,"x":8.48,"y":27},{"s":6,"x":11.8,"y":31.5},{"s":6,"x":16.4,"y":36},{"s":6,"x":22.8,"y":41},{"s":6,"x":31.6,"y":46},{"s":6,"x":43.9,"y":51},{"s":6,"x":61,"y":56},{"s":6,"x":84.8,"y":61},{"s":6,"x":118,"y":65.5},{"s":6,"x":164,"y":69.5},{"s":6,"x":228,"y":73},{"s":6,"x":316,"y":76},{"s":6,"x":439,"y":78.5},{"s":6,"x":610,"y":80.5},{"s":6,"x":848,"y":82},{"s":6,"x":1179,"y":83},{"s":6,"x":1638,"y":83.6},{"s":6,"x":2276,"y":84},{"s":6,"x":3162,"y":84.3},{"s":6,"x":4394,"y":84.6},{"s":6,"x":6105,"y":97.5},{"s":6,"x":8483,"y":98.6},{"s":6,"x":11788,"y":99.1},{"s":6,"x":16379,"y":99.4},{"s":6,"x":22758,"y":99.6},
{"s":7,"x":0.0061,"y":0.8},{"s":7,"x":0.0085,"y":0.8},{"s":7,"x":0.0118,"y":0.9},{"s":7,"x":0.0164,"y":0.9},{"s":7,"x":0.0228,"y":0.9},{"s":7,"x":0.0316,"y":1},{"s":7,"x":0.0439,"y":1},{"s":7,"x":0.061,"y":1.1},{"s":7,"x":0.0848,"y":1.1},{"s":7,"x":0.118,"y":1.2},{"s":7,"x":0.164,"y":1.4},{"s":7,"x":0.228,"y":1.8},{"s":7,"x":0.316,"y":2.3},{"s":7,"x":0.439,"y":3},{"s":7,"x":0.61,"y":3.9},{"s":7,"x":0.848,"y":5},{"s":7,"x":1.18,"y":6.4},{"s":7,"x":1.64,"y":8.1},{"s":7,"x":2.28,"y":10},{"s":7,"x":3.16,"y":12.3},{"s":7,"x":4.39,"y":15},{"s":7,"x":6.1,"y":18},{"s":7,"x":8.48,"y":21.5},{"s":7,"x":11.8,"y":25.5},{"s":7,"x":16.4,"y":30},{"s":7,"x":22.8,"y":35},{"s":7,"x":31.6,"y":40},{"s":7,"x":43.9,"y":45},{"s":7,"x":61,"y":50},{"s":7,"x":84.8,"y":55},{"s":7,"x":118,"y":60},{"s":7,"x":164,"y":64},{"s":7,"x":228,"y":68},{"s":7,"x":316,"y":71},{"s":7,"x":439,"y":73.5},{"s":7,"x":610,"y":75.5},{"s":7,"x":848,"y":76.8},{"s":7,"x":1179,"y":77.6},{"s":7,"x":1638,"y":78.1},{"s":7,"x":2276,"y":78.5},{"s":7,"x":3162,"y":78.8},{"s":7,"x":4394,"y":79},{"s":7,"x":6105,"y":79.2},{"s":7,"x":8483,"y":79.4},{"s":7,"x":11788,"y":79.6},{"s":7,"x":16379,"y":96.5},{"s":7,"x":22758,"y":98.5},
{"s":8,"x":0.0061,"y":1.3},{"s":8,"x":0.0085,"y":1.3},{"s":8,"x":0.0118,"y":1.4},{"s":8,"x":0.0164,"y":1.4},{"s":8,"x":0.0228,"y":1.4},{"s":8,"x":0.0316,"y":1.5},{"s":8,"x":0.0439,"y":1.5},{"s":8,"x":0.061,"y":1.6},{"s":8,"x":0.0848,"y":1.7},{"s":8,"x":0.118,"y":1.8},{"s":8,"x":0.164,"y":2},{"s":8,"x":0.228,"y":2.4},{"s":8,"x":0.316,"y":3},{"s":8,"x":0.439,"y":3.8},{"s":8,"x":0.61,"y":4.8},{"s":8,"x":0.848,"y":6.1},{"s":8,"x":1.18,"y":7.7},{"s":8,"x":1.64,"y":9.6},{"s":8,"x":2.28,"y":12},{"s":8,"x":3.16,"y":14.5},{"s":8,"x":4.39,"y":17.5},{"s":8,"x":6.1,"y":21},{"s":8,"x":8.48,"y":25},{"s":8,"x":11.8,"y":29},{"s":8,"x":16.4,"y":33.5},{"s":8,"x":22.8,"y":38},{"s":8,"x":31.6,"y":42.5},{"s":8,"x":43.9,"y":47},{"s":8,"x":61,"y":51.5},{"s":8,"x":84.8,"y":56},{"s":8,"x":118,"y":60},{"s":8,"x":164,"y":63},{"s":8,"x":228,"y":65.5},{"s":8,"x":316,"y":67.3},{"s":8,"x":439,"y":68.5},{"s":8,"x":610,"y":69.3},{"s":8,"x":848,"y":69.8},{"s":8,"x":1179,"y":70.1},{"s":8,"x":1638,"y":70.3},{"s":8,"x":2276,"y":70.5},{"s":8,"x":3162,"y":70.7},{"s":8,"x":4394,"y":70.8},{"s":8,"x":6105,"y":71},{"s":8,"x":8483,"y":71.1},{"s":8,"x":11788,"y":95.5},{"s":8,"x":16379,"y":97.8},{"s":8,"x":22758,"y":98.8},
{"s":9,"x":0.0061,"y":0.6},{"s":9,"x":0.0085,"y":0.6},{"s":9,"x":0.0118,"y":0.6},{"s":9,"x":0.0164,"y":0.7},{"s":9,"x":0.0228,"y":0.7},{"s":9,"x":0.0316,"y":0.7},{"s":9,"x":0.0439,"y":0.8},{"s":9,"x":0.061,"y":0.8},{"s":9,"x":0.0848,"y":0.9},{"s":9,"x":0.118,"y":1},{"s":9,"x":0.164,"y":1.1},{"s":9,"x":0.228,"y":1.4},{"s":9,"x":0.316,"y":1.8},{"s":9,"x":0.439,"y":2.3},{"s":9,"x":0.61,"y":3},{"s":9,"x":0.848,"y":3.8},{"s":9,"x":1.18,"y":4.8},{"s":9,"x":1.64,"y":6},{"s":9,"x":2.28,"y":7.4},{"s":9,"x":3.16,"y":9},{"s":9,"x":4.39,"y":11},{"s":9,"x":6.1,"y":13.3},{"s":9,"x":8.48,"y":16},{"s":9,"x":11.8,"y":19},{"s":9,"x":16.4,"y":22.5},{"s":9,"x":22.8,"y":26},{"s":9,"x":31.6,"y":30},{"s":9,"x":43.9,"y":34},{"s":9,"x":61,"y":38},{"s":9,"x":84.8,"y":42},{"s":9,"x":118,"y":46},{"s":9,"x":164,"y":49.5},{"s":9,"x":228,"y":52.5},{"s":9,"x":316,"y":55},{"s":9,"x":439,"y":57.2},{"s":9,"x":610,"y":59},{"s":9,"x":848,"y":60.3},{"s":9,"x":1179,"y":61.3},{"s":9,"x":1638,"y":62},{"s":9,"x":2276,"y":62.5},{"s":9,"x":3162,"y":62.9},{"s":9,"x":4394,"y":63.2},{"s":9,"x":6105,"y":63.4},{"s":9,"x":8483,"y":63.6},{"s":9,"x":11788,"y":63.8},{"s":9,"x":16379,"y":64},{"s":9,"x":22758,"y":94},
{"s":10,"x":0.0061,"y":2.9},{"s":10,"x":0.0085,"y":2.9},{"s":10,"x":0.0118,"y":3},{"s":10,"x":0.0164,"y":3},{"s":10,"x":0.0228,"y":3},{"s":10,"x":0.0316,"y":3.1},{"s":10,"x":0.0439,"y":3.1},{"s":10,"x":0.061,"y":3.2},{"s":10,"x":0.0848,"y":3.3},{"s":10,"x":0.118,"y":3.4},{"s":10,"x":0.164,"y":3.7},{"s":10,"x":0.228,"y":4.2},{"s":10,"x":0.316,"y":5},{"s":10,"x":0.439,"y":6.1},{"s":10,"x":0.61,"y":7.5},{"s":10,"x":0.848,"y":9.2},{"s":10,"x":1.18,"y":11.3},{"s":10,"x":1.64,"y":13.8},{"s":10,"x":2.28,"y":16.6},{"s":10,"x":3.16,"y":19.7},{"s":10,"x":4.39,"y":23},{"s":10,"x":6.1,"y":26.5},{"s":10,"x":8.48,"y":30},{"s":10,"x":11.8,"y":33.5},{"s":10,"x":16.4,"y":37},{"s":10,"x":22.8,"y":40.5},{"s":10,"x":31.6,"y":43.5},{"s":10,"x":43.9,"y":46.5},{"s":10,"x":61,"y":49},{"s":10,"x":84.8,"y":51},{"s":10,"x":118,"y":52.5},{"s":10,"x":164,"y":53.7},{"s":10,"x":228,"y":54.5},{"s":10,"x":316,"y":55.1},{"s":10,"x":439,"y":55.5},{"s":10,"x":610,"y":55.8},{"s":10,"x":848,"y":56},{"s":10,"x":1179,"y":56.2},{"s":10,"x":1638,"y":56.3},{"s":10,"x":2276,"y":56.4},{"s":10,"x":3162,"y":56.5},{"s":10,"x":4394,"y":97},{"s":10,"x":6105,"y":98.4},{"s":10,"x":8483,"y":99},{"s":10,"x":11788,"y":99.3},{"s":10,"x":16379,"y":99.5},{"s":10,"x":22758,"y":99.6},
{"s":11,"x":0.0061,"y":0.5},{"s":11,"x":0.0085,"y":0.5},{"s":11,"x":0.0118,"y":0.5},{"s":11,"x":0.0164,"y":0.6},{"s":11,"x":0.0228,"y":0.6},{"s":11,"x":0.0316,"y":0.6},{"s":11,"x":0.0439,"y":0.6},{"s":11,"x":0.061,"y":0.7},{"s":11,"x":0.0848,"y":0.7},{"s":11,"x":0.118,"y":0.8},{"s":11,"x":0.164,"y":0.9},{"s":11,"x":0.228,"y":1.1},{"s":11,"x":0.316,"y":1.4},{"s":11,"x":0.439,"y":1.8},{"s":11,"x":0.61,"y":2.3},{"s":11,"x":0.848,"y":2.9},{"s":11,"x":1.18,"y":3.7},{"s":11,"x":1.64,"y":4.7},{"s":11,"x":2.28,"y":5.9},{"s":11,"x":3.16,"y":7.3},{"s":11,"x":4.39,"y":9},{"s":11,"x":6.1,"y":11},{"s":11,"x":8.48,"y":13.3},{"s":11,"x":11.8,"y":16},{"s":11,"x":16.4,"y":19},{"s":11,"x":22.8,"y":22},{"s":11,"x":31.6,"y":25.5},{"s":11,"x":43.9,"y":29},{"s":11,"x":61,"y":32.5},{"s":11,"x":84.8,"y":36},{"s":11,"x":118,"y":39},{"s":11,"x":164,"y":41.8},{"s":11,"x":228,"y":44},{"s":11,"x":316,"y":45.8},{"s":11,"x":439,"y":47.2},{"s":11,"x":610,"y":48.2},{"s":11,"x":848,"y":48.9},{"s":11,"x":1179,"y":49.4},{"s":11,"x":1638,"y":49.8},{"s":11,"x":2276,"y":50.1},{"s":11,"x":3162,"y":50.3},{"s":11,"x":4394,"y":50.5},{"s":11,"x":6105,"y":50.7},{"s":11,"x":8483,"y":50.9},{"s":11,"x":11788,"y":51},{"s":11,"x":16379,"y":95.5},{"s":11,"x":22758,"y":98},
{"s":12,"x":0.0061,"y":1},{"s":12,"x":0.0085,"y":1},{"s":12,"x":0.0118,"y":1},{"s":12,"x":0.0164,"y":1.1},{"s":12,"x":0.0228,"y":1.1},{"s":12,"x":0.0316,"y":1.1},{"s":12,"x":0.0439,"y":1.2},{"s":12,"x":0.061,"y":1.2},{"s":12,"x":0.0848,"y":1.3},{"s":12,"x":0.118,"y":1.4},{"s":12,"x":0.164,"y":1.5},{"s":12,"x":0.228,"y":1.8},{"s":12,"x":0.316,"y":2.2},{"s":12,"x":0.439,"y":2.7},{"s":12,"x":0.61,"y":3.4},{"s":12,"x":0.848,"y":4.2},{"s":12,"x":1.18,"y":5.2},{"s":12,"x":1.64,"y":6.4},{"s":12,"x":2.28,"y":7.8},{"s":12,"x":3.16,"y":9.4},{"s":12,"x":4.39,"y":11.3},{"s":12,"x":6.1,"y":13.5},{"s":12,"x":8.48,"y":16},{"s":12,"x":11.8,"y":18.7},{"s":12,"x":16.4,"y":21.5},{"s":12,"x":22.8,"y":24.5},{"s":12,"x":31.6,"y":27.5},{"s":12,"x":43.9,"y":30.5},{"s":12,"x":61,"y":33.3},{"s":12,"x":84.8,"y":35.7},{"s":12,"x":118,"y":37.7},{"s":12,"x":164,"y":39.2},{"s":12,"x":228,"y":40.3},{"s":12,"x":316,"y":41.1},{"s":12,"x":439,"y":41.7},{"s":12,"x":610,"y":42.1},{"s":12,"x":848,"y":42.4},{"s":12,"x":1179,"y":42.6},{"s":12,"x":1638,"y":42.8},{"s":12,"x":2276,"y":43},{"s":12,"x":3162,"y":43.1},{"s":12,"x":4394,"y":43.2},{"s":12,"x":6105,"y":43.3},{"s":12,"x":8483,"y":43.4},{"s":12,"x":11788,"y":43.5},{"s":12,"x":16379,"y":43.6},{"s":12,"x":22758,"y":92},
{"s":13,"x":0.0061,"y":0.4},{"s":13,"x":0.0085,"y":0.4},{"s":13,"x":0.0118,"y":0.4},{"s":13,"x":0.0164,"y":0.4},{"s":13,"x":0.0228,"y":0.5},{"s":13,"x":0.0316,"y":0.5},{"s":13,"x":0.0439,"y":0.5},{"s":13,"x":0.061,"y":0.5},{"s":13,"x":0.0848,"y":0.6},{"s":13,"x":0.118,"y":0.6},{"s":13,"x":0.164,"y":0.7},{"s":13,"x":0.228,"y":0.9},{"s":13,"x":0.316,"y":1.1},{"s":13,"x":0.439,"y":1.4},{"s":13,"x":0.61,"y":1.8},{"s":13,"x":0.848,"y":2.3},{"s":13,"x":1.18,"y":2.9},{"s":13,"x":1.64,"y":3.6},{"s":13,"x":2.28,"y":4.5},{"s":13,"x":3.16,"y":5.6},{"s":13,"x":4.39,"y":6.9},{"s":13,"x":6.1,"y":8.4},{"s":13,"x":8.48,"y":10.1},{"s":13,"x":11.8,"y":12},{"s":13,"x":16.4,"y":14.2},{"s":13,"x":22.8,"y":16.6},{"s":13,"x":31.6,"y":19.2},{"s":13,"x":43.9,"y":22},{"s":13,"x":61,"y":24.8},{"s":13,"x":84.8,"y":27.4},{"s":13,"x":118,"y":29.7},{"s":13,"x":164,"y":31.6},{"s":13,"x":228,"y":33},{"s":13,"x":316,"y":34},{"s":13,"x":439,"y":34.8},{"s":13,"x":610,"y":35.3},{"s":13,"x":848,"y":35.7},{"s":13,"x":1179,"y":36},{"s":13,"x":1638,"y":36.2},{"s":13,"x":2276,"y":36.4},{"s":13,"x":3162,"y":36.5},{"s":13,"x":4394,"y":36.6},{"s":13,"x":6105,"y":98},{"s":13,"x":8483,"y":99.2},{"s":13,"x":11788,"y":99.5},{"s":13,"x":16379,"y":99.7},{"s":13,"x":22758,"y":99.8},
{"s":14,"x":0.0061,"y":1.9},{"s":14,"x":0.0085,"y":1.9},{"s":14,"x":0.0118,"y":2},{"s":14,"x":0.0164,"y":2},{"s":14,"x":0.0228,"y":2},{"s":14,"x":0.0316,"y":2.1},{"s":14,"x":0.0439,"y":2.1},{"s":14,"x":0.061,"y":2.2},{"s":14,"x":0.0848,"y":2.2},{"s":14,"x":0.118,"y":2.3},{"s":14,"x":0.164,"y":2.5},{"s":14,"x":0.228,"y":2.8},{"s":14,"x":0.316,"y":3.3},{"s":14,"x":0.439,"y":3.9},{"s":14,"x":0.61,"y":4.7},{"s":14,"x":0.848,"y":5.6},{"s":14,"x":1.18,"y":6.7},{"s":14,"x":1.64,"y":8},{"s":14,"x":2.28,"y":9.5},{"s":14,"x":3.16,"y":11.2},{"s":14,"x":4.39,"y":13},{"s":14,"x":6.1,"y":15},{"s":14,"x":8.48,"y":17},{"s":14,"x":11.8,"y":19},{"s":14,"x":16.4,"y":21},{"s":14,"x":22.8,"y":22.8},{"s":14,"x":31.6,"y":24.5},{"s":14,"x":43.9,"y":26},{"s":14,"x":61,"y":27.3},{"s":14,"x":84.8,"y":28.3},{"s":14,"x":118,"y":29.1},{"s":14,"x":164,"y":29.7},{"s":14,"x":228,"y":30.2},{"s":14,"x":316,"y":30.5},{"s":14,"x":439,"y":30.8},{"s":14,"x":610,"y":31},{"s":14,"x":848,"y":31.2},{"s":14,"x":1179,"y":31.3},{"s":14,"x":1638,"y":31.4},{"s":14,"x":2276,"y":31.5},{"s":14,"x":3162,"y":31.6},{"s":14,"x":4394,"y":31.7},{"s":14,"x":6105,"y":31.8},{"s":14,"x":8483,"y":31.9},{"s":14,"x":11788,"y":32},{"s":14,"x":16379,"y":32.1},{"s":14,"x":22758,"y":68},
{"s":15,"x":0.0061,"y":0.3},{"s":15,"x":0.0085,"y":0.3},{"s":15,"x":0.0118,"y":0.3},{"s":15,"x":0.0164,"y":0.3},{"s":15,"x":0.0228,"y":0.3},{"s":15,"x":0.0316,"y":0.4},{"s":15,"x":0.0439,"y":0.4},{"s":15,"x":0.061,"y":0.4},{"s":15,"x":0.0848,"y":0.4},{"s":15,"x":0.118,"y":0.5},{"s":15,"x":0.164,"y":0.5},{"s":15,"x":0.228,"y":0.7},{"s":15,"x":0.316,"y":0.9},{"s":15,"x":0.439,"y":1.1},{"s":15,"x":0.61,"y":1.4},{"s":15,"x":0.848,"y":1.8},{"s":15,"x":1.18,"y":2.3},{"s":15,"x":1.64,"y":2.9},{"s":15,"x":2.28,"y":3.6},{"s":15,"x":3.16,"y":4.4},{"s":15,"x":4.39,"y":5.4},{"s":15,"x":6.1,"y":6.6},{"s":15,"x":8.48,"y":8},{"s":15,"x":11.8,"y":9.6},{"s":15,"x":16.4,"y":11.3},{"s":15,"x":22.8,"y":13.1},{"s":15,"x":31.6,"y":15},{"s":15,"x":43.9,"y":16.9},{"s":15,"x":61,"y":18.7},{"s":15,"x":84.8,"y":20.3},{"s":15,"x":118,"y":21.7},{"s":15,"x":164,"y":22.9},{"s":15,"x":228,"y":23.9},{"s":15,"x":316,"y":24.7},{"s":15,"x":439,"y":25.3},{"s":15,"x":610,"y":25.8},{"s":15,"x":848,"y":26.2},{"s":15,"x":1179,"y":26.5},{"s":15,"x":1638,"y":26.8},{"s":15,"x":2276,"y":27},{"s":15,"x":3162,"y":27.2},{"s":15,"x":4394,"y":27.4},{"s":15,"x":6105,"y":27.6},{"s":15,"x":8483,"y":27.8},{"s":15,"x":11788,"y":28},{"s":15,"x":16379,"y":28.2},{"s":15,"x":22758,"y":29.5},
{"s":16,"x":0.0061,"y":0.7},{"s":16,"x":0.0085,"y":0.7},{"s":16,"x":0.0118,"y":0.7},{"s":16,"x":0.0164,"y":0.7},{"s":16,"x":0.0228,"y":0.8},{"s":16,"x":0.0316,"y":0.8},{"s":16,"x":0.0439,"y":0.8},{"s":16,"x":0.061,"y":0.9},{"s":16,"x":0.0848,"y":0.9},{"s":16,"x":0.118,"y":1},{"s":16,"x":0.164,"y":1.1},{"s":16,"x":0.228,"y":1.3},{"s":16,"x":0.316,"y":1.6},{"s":16,"x":0.439,"y":2},{"s":16,"x":0.61,"y":2.5},{"s":16,"x":0.848,"y":3.1},{"s":16,"x":1.18,"y":3.8},{"s":16,"x":1.64,"y":4.6},{"s":16,"x":2.28,"y":5.5},{"s":16,"x":3.16,"y":6.5},{"s":16,"x":4.39,"y":7.6},{"s":16,"x":6.1,"y":8.8},{"s":16,"x":8.48,"y":10.1},{"s":16,"x":11.8,"y":11.5},{"s":16,"x":16.4,"y":12.9},{"s":16,"x":22.8,"y":14.3},{"s":16,"x":31.6,"y":15.6},{"s":16,"x":43.9,"y":16.8},{"s":16,"x":61,"y":17.8},{"s":16,"x":84.8,"y":18.6},{"s":16,"x":118,"y":19.2},{"s":16,"x":164,"y":19.7},{"s":16,"x":228,"y":20.1},{"s":16,"x":316,"y":20.4},{"s":16,"x":439,"y":20.6},{"s":16,"x":610,"y":20.8},{"s":16,"x":848,"y":21},{"s":16,"x":1179,"y":21.1},{"s":16,"x":1638,"y":21.2},{"s":16,"x":2276,"y":21.3},{"s":16,"x":3162,"y":21.4},{"s":16,"x":4394,"y":21.5},{"s":16,"x":6105,"y":21.6},{"s":16,"x":8483,"y":21.7},{"s":16,"x":11788,"y":93},{"s":16,"x":16379,"y":97.5},{"s":16,"x":22758,"y":98.8},
{"s":17,"x":0.0061,"y":0.35},{"s":17,"x":0.0085,"y":0.35},{"s":17,"x":0.0118,"y":0.4},{"s":17,"x":0.0164,"y":0.4},{"s":17,"x":0.0228,"y":0.4},{"s":17,"x":0.0316,"y":0.4},{"s":17,"x":0.0439,"y":0.4},{"s":17,"x":0.061,"y":0.45},{"s":17,"x":0.0848,"y":0.5},{"s":17,"x":0.118,"y":0.5},{"s":17,"x":0.164,"y":0.6},{"s":17,"x":0.228,"y":0.7},{"s":17,"x":0.316,"y":0.9},{"s":17,"x":0.439,"y":1.1},{"s":17,"x":0.61,"y":1.4},{"s":17,"x":0.848,"y":1.8},{"s":17,"x":1.18,"y":2.2},{"s":17,"x":1.64,"y":2.7},{"s":17,"x":2.28,"y":3.3},{"s":17,"x":3.16,"y":4},{"s":17,"x":4.39,"y":4.8},{"s":17,"x":6.1,"y":5.7},{"s":17,"x":8.48,"y":6.7},{"s":17,"x":11.8,"y":7.8},{"s":17,"x":16.4,"y":8.9},{"s":17,"x":22.8,"y":10},{"s":17,"x":31.6,"y":11},{"s":17,"x":43.9,"y":11.9},{"s":17,"x":61,"y":12.7},{"s":17,"x":84.8,"y":13.4},{"s":17,"x":118,"y":14},{"s":17,"x":164,"y":14.5},{"s":17,"x":228,"y":14.9},{"s":17,"x":316,"y":15.2},{"s":17,"x":439,"y":15.4},{"s":17,"x":610,"y":15.6},{"s":17,"x":848,"y":15.8},{"s":17,"x":1179,"y":15.9},{"s":17,"x":1638,"y":16},{"s":17,"x":2276,"y":16.1},{"s":17,"x":3162,"y":16.2},{"s":17,"x":4394,"y":16.3},{"s":17,"x":6105,"y":16.4},{"s":17,"x":8483,"y":16.5},{"s":17,"x":11788,"y":16.6},{"s":17,"x":16379,"y":90},{"s":17,"x":22758,"y":97},
{"s":18,"x":0.0061,"y":0.5},{"s":18,"x":0.0085,"y":0.5},{"s":18,"x":0.0118,"y":0.5},{"s":18,"x":0.0164,"y":0.5},{"s":18,"x":0.0228,"y":0.5},{"s":18,"x":0.0316,"y":0.6},{"s":18,"x":0.0439,"y":0.6},{"s":18,"x":0.061,"y":0.6},{"s":18,"x":0.0848,"y":0.6},{"s":18,"x":0.118,"y":0.7},{"s":18,"x":0.164,"y":0.8},{"s":18,"x":0.228,"y":0.9},{"s":18,"x":0.316,"y":1.1},{"s":18,"x":0.439,"y":1.3},{"s":18,"x":0.61,"y":1.6},{"s":18,"x":0.848,"y":2},{"s":18,"x":1.18,"y":2.4},{"s":18,"x":1.64,"y":2.9},{"s":18,"x":2.28,"y":3.4},{"s":18,"x":3.16,"y":4},{"s":18,"x":4.39,"y":4.7},{"s":18,"x":6.1,"y":5.4},{"s":18,"x":8.48,"y":6.2},{"s":18,"x":11.8,"y":7},{"s":18,"x":16.4,"y":7.8},{"s":18,"x":22.8,"y":8.6},{"s":18,"x":31.6,"y":9.3},{"s":18,"x":43.9,"y":9.9},{"s":18,"x":61,"y":10.4},{"s":18,"x":84.8,"y":10.8},{"s":18,"x":118,"y":11.1},{"s":18,"x":164,"y":11.4},{"s":18,"x":228,"y":11.6},{"s":18,"x":316,"y":11.8},{"s":18,"x":439,"y":11.9},{"s":18,"x":610,"y":12},{"s":18,"x":848,"y":12.1},{"s":18,"x":1179,"y":12.2},{"s":18,"x":1638,"y":12.3},{"s":18,"x":2276,"y":12.4},{"s":18,"x":3162,"y":12.5},{"s":18,"x":4394,"y":12.6},{"s":18,"x":6105,"y":12.7},{"s":18,"x":8483,"y":96},{"s":18,"x":11788,"y":98.5},{"s":18,"x":16379,"y":99.2},{"s":18,"x":22758,"y":99.5},
{"s":19,"x":0.0061,"y":0.25},{"s":19,"x":0.0085,"y":0.25},{"s":19,"x":0.0118,"y":0.3},{"s":19,"x":0.0164,"y":0.3},{"s":19,"x":0.0228,"y":0.3},{"s":19,"x":0.0316,"y":0.3},{"s":19,"x":0.0439,"y":0.3},{"s":19,"x":0.061,"y":0.35},{"s":19,"x":0.0848,"y":0.4},{"s":19,"x":0.118,"y":0.4},{"s":19,"x":0.164,"y":0.5},{"s":19,"x":0.228,"y":0.6},{"s":19,"x":0.316,"y":0.7},{"s":19,"x":0.439,"y":0.9},{"s":19,"x":0.61,"y":1.1},{"s":19,"x":0.848,"y":1.4},{"s":19,"x":1.18,"y":1.7},{"s":19,"x":1.64,"y":2.1},{"s":19,"x":2.28,"y":2.5},{"s":19,"x":3.16,"y":3},{"s":19,"x":4.39,"y":3.5},{"s":19,"x":6.1,"y":4.1},{"s":19,"x":8.48,"y":4.7},{"s":19,"x":11.8,"y":5.3},{"s":19,"x":16.4,"y":5.9},{"s":19,"x":22.8,"y":6.4},{"s":19,"x":31.6,"y":6.9},{"s":19,"x":43.9,"y":7.3},{"s":19,"x":61,"y":7.6},{"s":19,"x":84.8,"y":7.9},{"s":19,"x":118,"y":8.1},{"s":19,"x":164,"y":8.3},{"s":19,"x":228,"y":8.5},{"s":19,"x":316,"y":8.6},{"s":19,"x":439,"y":8.7},{"s":19,"x":610,"y":8.8},{"s":19,"x":848,"y":8.9},{"s":19,"x":1179,"y":9},{"s":19,"x":1638,"y":9.1},{"s":19,"x":2276,"y":9.2},{"s":19,"x":3162,"y":9.3},{"s":19,"x":4394,"y":9.4},{"s":19,"x":6105,"y":9.5},{"s":19,"x":8483,"y":9.6},{"s":19,"x":11788,"y":9.7},{"s":19,"x":16379,"y":16.5},{"s":19,"x":22758,"y":30},
{"s":20,"x":0.0061,"y":0.2},{"s":20,"x":0.0085,"y":0.2},{"s":20,"x":0.0118,"y":0.2},{"s":20,"x":0.0164,"y":0.2},{"s":20,"x":0.0228,"y":0.2},{"s":20,"x":0.0316,"y":0.2},{"s":20,"x":0.0439,"y":0.25},{"s":20,"x":0.061,"y":0.25},{"s":20,"x":0.0848,"y":0.3},{"s":20,"x":0.118,"y":0.3},{"s":20,"x":0.164,"y":0.35},{"s":20,"x":0.228,"y":0.4},{"s":20,"x":0.316,"y":0.5},{"s":20,"x":0.439,"y":0.6},{"s":20,"x":0.61,"y":0.8},{"s":20,"x":0.848,"y":1},{"s":20,"x":1.18,"y":1.4},{"s":20,"x":1.64,"y":1.9},{"s":20,"x":2.28,"y":2.5},{"s":20,"x":3.16,"y":3.1},{"s":20,"x":4.39,"y":3.8},{"s":20,"x":6.1,"y":4.4},{"s":20,"x":8.48,"y":5},{"s":20,"x":11.8,"y":5.4},{"s":20,"x":16.4,"y":5.8},{"s":20,"x":22.8,"y":6},{"s":20,"x":31.6,"y":6.2},{"s":20,"x":43.9,"y":6.3},{"s":20,"x":61,"y":6.4},{"s":20,"x":84.8,"y":6.5},{"s":20,"x":118,"y":6.6},{"s":20,"x":164,"y":6.6},{"s":20,"x":228,"y":6.7},{"s":20,"x":316,"y":6.7},{"s":20,"x":439,"y":6.8},{"s":20,"x":610,"y":6.8},{"s":20,"x":848,"y":6.9},{"s":20,"x":1179,"y":6.9},{"s":20,"x":1638,"y":7},{"s":20,"x":2276,"y":7},{"s":20,"x":3162,"y":7},{"s":20,"x":4394,"y":7.1},{"s":20,"x":6105,"y":7.1},{"s":20,"x":8483,"y":7.2},{"s":20,"x":11788,"y":7.2},{"s":20,"x":16379,"y":85},{"s":20,"x":22758,"y":97},
{"s":21,"x":0.0061,"y":2.2},{"s":21,"x":0.0085,"y":2.2},{"s":21,"x":0.0118,"y":2.3},{"s":21,"x":0.0164,"y":2.3},{"s":21,"x":0.0228,"y":2.4},{"s":21,"x":0.0316,"y":2.4},{"s":21,"x":0.0439,"y":2.5},{"s":21,"x":0.061,"y":2.5},{"s":21,"x":0.0848,"y":2.6},{"s":21,"x":0.118,"y":2.8},{"s":21,"x":0.164,"y":3.1},{"s":21,"x":0.228,"y":3.7},{"s":21,"x":0.316,"y":4.6},{"s":21,"x":0.439,"y":5.8},{"s":21,"x":0.61,"y":7.3},{"s":21,"x":0.848,"y":9.2},{"s":21,"x":1.18,"y":11.6},{"s":21,"x":1.64,"y":14.5},{"s":21,"x":2.28,"y":18},{"s":21,"x":3.16,"y":22},{"s":21,"x":4.39,"y":26.5},{"s":21,"x":6.1,"y":31.5},{"s":21,"x":8.48,"y":37},{"s":21,"x":11.8,"y":43},{"s":21,"x":16.4,"y":49},{"s":21,"x":22.8,"y":55},{"s":21,"x":31.6,"y":61},{"s":21,"x":43.9,"y":67},{"s":21,"x":61,"y":72.5},{"s":21,"x":84.8,"y":77.5},{"s":21,"x":118,"y":82},{"s":21,"x":164,"y":85.5},{"s":21,"x":228,"y":88},{"s":21,"x":316,"y":90},{"s":21,"x":439,"y":91.3},{"s":21,"x":610,"y":92.2},{"s":21,"x":848,"y":92.8},{"s":21,"x":1179,"y":96.5},{"s":21,"x":1638,"y":98.8},{"s":21,"x":2276,"y":99.4},{"s":21,"x":3162,"y":99.7},{"s":21,"x":4394,"y":99.8},{"s":21,"x":6105,"y":99.9},{"s":21,"x":8483,"y":99.9},{"s":21,"x":11788,"y":100},{"s":21,"x":16379,"y":100},{"s":21,"x":22758,"y":100},
{"s":22,"x":0.0061,"y":0.9},{"s":22,"x":0.0085,"y":0.9},{"s":22,"x":0.0118,"y":0.9},{"s":22,"x":0.0164,"y":1},{"s":22,"x":0.0228,"y":1},{"s":22,"x":0.0316,"y":1},{"s":22,"x":0.0439,"y":1.1},{"s":22,"x":0.061,"y":1.1},{"s":22,"x":0.0848,"y":1.2},{"s":22,"x":0.118,"y":1.3},{"s":22,"x":0.164,"y":1.5},{"s":22,"x":0.228,"y":1.8},{"s":22,"x":0.316,"y":2.2},{"s":22,"x":0.439,"y":2.7},{"s":22,"x":0.61,"y":3.3},{"s":22,"x":0.848,"y":4.1},{"s":22,"x":1.18,"y":5.1},{"s":22,"x":1.64,"y":6.3},{"s":22,"x":2.28,"y":7.7},{"s":22,"x":3.16,"y":9.4},{"s":22,"x":4.39,"y":11.4},{"s":22,"x":6.1,"y":13.7},{"s":22,"x":8.48,"y":16.3},{"s":22,"x":11.8,"y":19.3},{"s":22,"x":16.4,"y":22.7},{"s":22,"x":22.8,"y":26.5},{"s":22,"x":31.6,"y":30.7},{"s":22,"x":43.9,"y":35.3},{"s":22,"x":61,"y":40.3},{"s":22,"x":84.8,"y":45.5},{"s":22,"x":118,"y":51},{"s":22,"x":164,"y":56.5},{"s":22,"x":228,"y":62},{"s":22,"x":316,"y":67},{"s":22,"x":439,"y":71.5},{"s":22,"x":610,"y":75.5},{"s":22,"x":848,"y":79},{"s":22,"x":1179,"y":81.8},{"s":22,"x":1638,"y":83.8},{"s":22,"x":2276,"y":85.2},{"s":22,"x":3162,"y":86},{"s":22,"x":4394,"y":86.5},{"s":22,"x":6105,"y":86.9},{"s":22,"x":8483,"y":98},{"s":22,"x":11788,"y":99.2},{"s":22,"x":16379,"y":99.6},{"s":22,"x":22758,"y":99.8},
{"s":23,"x":0.0061,"y":1.4},{"s":23,"x":0.0085,"y":1.4},{"s":23,"x":0.0118,"y":1.5},{"s":23,"x":0.0164,"y":1.5},{"s":23,"x":0.0228,"y":1.5},{"s":23,"x":0.0316,"y":1.6},{"s":23,"x":0.0439,"y":1.6},{"s":23,"x":0.061,"y":1.7},{"s":23,"x":0.0848,"y":1.7},{"s":23,"x":0.118,"y":1.8},{"s":23,"x":0.164,"y":2},{"s":23,"x":0.228,"y":2.3},{"s":23,"x":0.316,"y":2.7},{"s":23,"x":0.439,"y":3.2},{"s":23,"x":0.61,"y":3.9},{"s":23,"x":0.848,"y":4.7},{"s":23,"x":1.18,"y":5.7},{"s":23,"x":1.64,"y":6.9},{"s":23,"x":2.28,"y":8.3},{"s":23,"x":3.16,"y":10},{"s":23,"x":4.39,"y":12},{"s":23,"x":6.1,"y":14.3},{"s":23,"x":8.48,"y":17},{"s":23,"x":11.8,"y":20},{"s":23,"x":16.4,"y":23.5},{"s":23,"x":22.8,"y":27.5},{"s":23,"x":31.6,"y":32},{"s":23,"x":43.9,"y":37},{"s":23,"x":61,"y":42.5},{"s":23,"x":84.8,"y":48},{"s":23,"x":118,"y":54},{"s":23,"x":164,"y":60},{"s":23,"x":228,"y":66},{"s":23,"x":316,"y":71.5},{"s":23,"x":439,"y":76.5},{"s":23,"x":610,"y":81},{"s":23,"x":848,"y":85},{"s":23,"x":1179,"y":88.5},{"s":23,"x":1638,"y":91.5},{"s":23,"x":2276,"y":93.8},{"s":23,"x":3162,"y":95.5},{"s":23,"x":4394,"y":96.8},{"s":23,"x":6105,"y":97.8},{"s":23,"x":8483,"y":98.6},{"s":23,"x":11788,"y":99.2},{"s":23,"x":16379,"y":99.6},{"s":23,"x":22758,"y":99.8},
{"s":24,"x":0.0061,"y":0.45},{"s":24,"x":0.0085,"y":0.45},{"s":24,"x":0.0118,"y":0.45},{"s":24,"x":0.0164,"y":0.5},{"s":24,"x":0.0228,"y":0.5},{"s":24,"x":0.0316,"y":0.5},{"s":24,"x":0.0439,"y":0.55},{"s":24,"x":0.061,"y":0.55},{"s":24,"x":0.0848,"y":0.6},{"s":24,"x":0.118,"y":0.65},{"s":24,"x":0.164,"y":0.75},{"s":24,"x":0.228,"y":0.9},{"s":24,"x":0.316,"y":1.1},{"s":24,"x":0.439,"y":1.4},{"s":24,"x":0.61,"y":1.8},{"s":24,"x":0.848,"y":2.3},{"s":24,"x":1.18,"y":2.9},{"s":24,"x":1.64,"y":3.6},{"s":24,"x":2.28,"y":4.4},{"s":24,"x":3.16,"y":5.4},{"s":24,"x":4.39,"y":6.6},{"s":24,"x":6.1,"y":8},{"s":24,"x":8.48,"y":9.6},{"s":24,"x":11.8,"y":11.3},{"s":24,"x":16.4,"y":13.1},{"s":24,"x":22.8,"y":15},{"s":24,"x":31.6,"y":16.8},{"s":24,"x":43.9,"y":18.4},{"s":24,"x":61,"y":19.8},{"s":24,"x":84.8,"y":21},{"s":24,"x":118,"y":22},{"s":24,"x":164,"y":22.7},{"s":24,"x":228,"y":23.2},{"s":24,"x":316,"y":23.6},{"s":24,"x":439,"y":23.9},{"s":24,"x":610,"y":24.1},{"s":24,"x":848,"y":24.3},{"s":24,"x":1179,"y":24.4},{"s":24,"x":1638,"y":24.5},{"s":24,"x":2276,"y":24.6},{"s":24,"x":3162,"y":93},{"s":24,"x":4394,"y":97},{"s":24,"x":6105,"y":98.5},{"s":24,"x":8483,"y":99.1},{"s":24,"x":11788,"y":99.4},{"s":24,"x":16379,"y":99.6},{"s":24,"x":22758,"y":99.7},
{"s":25,"x":0.0061,"y":4.2},{"s":25,"x":0.0085,"y":4.3},{"s":25,"x":0.0118,"y":4.4},{"s":25,"x":0.0164,"y":4.5},{"s":25,"x":0.0228,"y":4.5},{"s":25,"x":0.0316,"y":4.6},{"s":25,"x":0.0439,"y":4.7},{"s":25,"x":0.061,"y":4.8},{"s":25,"x":0.0848,"y":4.9},{"s":25,"x":0.118,"y":5.2},{"s":25,"x":0.164,"y":5.8},{"s":25,"x":0.228,"y":7},{"s":25,"x":0.316,"y":8.6},{"s":25,"x":0.439,"y":10.8},{"s":25,"x":0.61,"y":13.8},{"s":25,"x":0.848,"y":18.5},{"s":25,"x":1.18,"y":24.5},{"s":25,"x":1.64,"y":31},{"s":25,"x":2.28,"y":37},{"s":25,"x":3.16,"y":42.5},{"s":25,"x":4.39,"y":47.5},{"s":25,"x":6.1,"y":52.5},{"s":25,"x":8.48,"y":57.5},{"s":25,"x":11.8,"y":63.5},{"s":25,"x":16.4,"y":70},{"s":25,"x":22.8,"y":76},{"s":25,"x":31.6,"y":80.5},{"s":25,"x":43.9,"y":84},{"s":25,"x":61,"y":87},{"s":25,"x":84.8,"y":89.5},{"s":25,"x":118,"y":91.5},{"s":25,"x":164,"y":93.3},{"s":25,"x":228,"y":94.7},{"s":25,"x":316,"y":95.8},{"s":25,"x":439,"y":96.8},{"s":25,"x":610,"y":97.7},{"s":25,"x":848,"y":98.5},{"s":25,"x":1179,"y":99.1},{"s":25,"x":1638,"y":99.5},{"s":25,"x":2276,"y":99.7},{"s":25,"x":3162,"y":99.8},{"s":25,"x":4394,"y":99.9},{"s":25,"x":6105,"y":99.9},{"s":25,"x":8483,"y":100},{"s":25,"x":11788,"y":100},{"s":25,"x":16379,"y":100},{"s":25,"x":22758,"y":100},
{"s":26,"x":0.0061,"y":3.5},{"s":26,"x":0.0085,"y":3.5},{"s":26,"x":0.0118,"y":3.6},{"s":26,"x":0.0164,"y":3.6},{"s":26,"x":0.0228,"y":3.7},{"s":26,"x":0.0316,"y":3.8},{"s":26,"x":0.0439,"y":3.8},{"s":26,"x":0.061,"y":3.9},{"s":26,"x":0.0848,"y":4},{"s":26,"x":0.118,"y":4.2},{"s":26,"x":0.164,"y":4.6},{"s":26,"x":0.228,"y":5.5},{"s":26,"x":0.316,"y":6.8},{"s":26,"x":0.439,"y":8.5},{"s":26,"x":0.61,"y":10.8},{"s":26,"x":0.848,"y":13.8},{"s":26,"x":1.18,"y":17.5},{"s":26,"x":1.64,"y":22},{"s":26,"x":2.28,"y":27},{"s":26,"x":3.16,"y":32.5},{"s":26,"x":4.39,"y":38},{"s":26,"x":6.1,"y":43.5},{"s":26,"x":8.48,"y":49},{"s":26,"x":11.8,"y":54},{"s":26,"x":16.4,"y":59},{"s":26,"x":22.8,"y":64.5},{"s":26,"x":31.6,"y":70},{"s":26,"x":43.9,"y":75},{"s":26,"x":61,"y":79.5},{"s":26,"x":84.8,"y":83},{"s":26,"x":118,"y":86},{"s":26,"x":164,"y":88.5},{"s":26,"x":228,"y":90.5},{"s":26,"x":316,"y":92.3},{"s":26,"x":439,"y":93.8},{"s":26,"x":610,"y":95},{"s":26,"x":848,"y":96},{"s":26,"x":1179,"y":96.8},{"s":26,"x":1638,"y":97.4},{"s":26,"x":2276,"y":97.9},{"s":26,"x":3162,"y":98.3},{"s":26,"x":4394,"y":98.7},{"s":26,"x":6105,"y":99.8},{"s":26,"x":8483,"y":99.9},{"s":26,"x":11788,"y":99.9},{"s":26,"x":16379,"y":100},{"s":26,"x":22758,"y":100},
{"s":27,"x":0.0061,"y":2.7},{"s":27,"x":0.0085,"y":2.7},{"s":27,"x":0.0118,"y":2.8},{"s":27,"x":0.0164,"y":2.8},{"s":27,"x":0.0228,"y":2.9},{"s":27,"x":0.0316,"y":2.9},{"s":27,"x":0.0439,"y":3},{"s":27,"x":0.061,"y":3},{"s":27,"x":0.0848,"y":3.1},{"s":27,"x":0.118,"y":3.3},{"s":27,"x":0.164,"y":3.7},{"s":27,"x":0.228,"y":4.5},{"s":27,"x":0.316,"y":5.7},{"s":27,"x":0.439,"y":7.2},{"s":27,"x":0.61,"y":9.2},{"s":27,"x":0.848,"y":11.8},{"s":27,"x":1.18,"y":15},{"s":27,"x":1.64,"y":19},{"s":27,"x":2.28,"y":23.5},{"s":27,"x":3.16,"y":28},{"s":27,"x":4.39,"y":32.5},{"s":27,"x":6.1,"y":37},{"s":27,"x":8.48,"y":41.5},{"s":27,"x":11.8,"y":46},{"s":27,"x":16.4,"y":51},{"s":27,"x":22.8,"y":56.5},{"s":27,"x":31.6,"y":62},{"s":27,"x":43.9,"y":67.5},{"s":27,"x":61,"y":72.5},{"s":27,"x":84.8,"y":77},{"s":27,"x":118,"y":81},{"s":27,"x":164,"y":84.5},{"s":27,"x":228,"y":87.5},{"s":27,"x":316,"y":89.8},{"s":27,"x":439,"y":91.6},{"s":27,"x":610,"y":93},{"s":27,"x":848,"y":94},{"s":27,"x":1179,"y":94.7},{"s":27,"x":1638,"y":95.2},{"s":27,"x":2276,"y":95.5},{"s":27,"x":3162,"y":95.7},{"s":27,"x":4394,"y":95.9},{"s":27,"x":6105,"y":96},{"s":27,"x":8483,"y":96.1},{"s":27,"x":11788,"y":99.5},{"s":27,"x":16379,"y":99.8},{"s":27,"x":22758,"y":99.9},
{"s":28,"x":0.0061,"y":1.2},{"s":28,"x":0.0085,"y":1.2},{"s":28,"x":0.0118,"y":1.3},{"s":28,"x":0.0164,"y":1.3},{"s":28,"x":0.0228,"y":1.3},{"s":28,"x":0.0316,"y":1.4},{"s":28,"x":0.0439,"y":1.4},{"s":28,"x":0.061,"y":1.5},{"s":28,"x":0.0848,"y":1.5},{"s":28,"x":0.118,"y":1.6},{"s":28,"x":0.164,"y":1.8},{"s":28,"x":0.228,"y":2.1},{"s":28,"x":0.316,"y":2.6},{"s":28,"x":0.439,"y":3.3},{"s":28,"x":0.61,"y":4.2},{"s":28,"x":0.848,"y":5.3},{"s":28,"x":1.18,"y":6.7},{"s":28,"x":1.64,"y":8.4},{"s":28,"x":2.28,"y":10.5},{"s":28,"x":3.16,"y":13},{"s":28,"x":4.39,"y":16},{"s":28,"x":6.1,"y":19.5},{"s":28,"x":8.48,"y":23.5},{"s":28,"x":11.8,"y":28},{"s":28,"x":16.4,"y":33},{"s":28,"x":22.8,"y":38.5},{"s":28,"x":31.6,"y":44.5},{"s":28,"x":43.9,"y":50.5},{"s":28,"x":61,"y":56.5},{"s":28,"x":84.8,"y":62.5},{"s":28,"x":118,"y":68},{"s":28,"x":164,"y":73},{"s":28,"x":228,"y":77.5},{"s":28,"x":316,"y":81.5},{"s":28,"x":439,"y":84.8},{"s":28,"x":610,"y":87.3},{"s":28,"x":848,"y":89.2},{"s":28,"x":1179,"y":90.5},{"s":28,"x":1638,"y":91.3},{"s":28,"x":2276,"y":97.5},{"s":28,"x":3162,"y":99.2},{"s":28,"x":4394,"y":99.6},{"s":28,"x":6105,"y":99.8},{"s":28,"x":8483,"y":99.9},{"s":28,"x":11788,"y":99.9},{"s":28,"x":16379,"y":100},{"s":28,"x":22758,"y":100},
{"s":29,"x":0.0061,"y":0.6},{"s":29,"x":0.0085,"y":0.6},{"s":29,"x":0.0118,"y":0.7},{"s":29,"x":0.0164,"y":0.7},{"s":29,"x":0.0228,"y":0.7},{"s":29,"x":0.0316,"y":0.7},{"s":29,"x":0.0439,"y":0.8},{"s":29,"x":0.061,"y":0.8},{"s":29,"x":0.0848,"y":0.9},{"s":29,"x":0.118,"y":0.9},{"s":29,"x":0.164,"y":1},{"s":29,"x":0.228,"y":1.2},{"s":29,"x":0.316,"y":1.5},{"s":29,"x":0.439,"y":1.9},{"s":29,"x":0.61,"y":2.4},{"s":29,"x":0.848,"y":3},{"s":29,"x":1.18,"y":3.8},{"s":29,"x":1.64,"y":4.8},{"s":29,"x":2.28,"y":6},{"s":29,"x":3.16,"y":7.4},{"s":29,"x":4.39,"y":9.1},{"s":29,"x":6.1,"y":11.1},{"s":29,"x":8.48,"y":13.4},{"s":29,"x":11.8,"y":16},{"s":29,"x":16.4,"y":19},{"s":29,"x":22.8,"y":22.5},{"s":29,"x":31.6,"y":26.5},{"s":29,"x":43.9,"y":31},{"s":29,"x":61,"y":36},{"s":29,"x":84.8,"y":41.5},{"s":29,"x":118,"y":47},{"s":29,"x":164,"y":52.5},{"s":29,"x":228,"y":58},{"s":29,"x":316,"y":63.5},{"s":29,"x":439,"y":68.5},{"s":29,"x":610,"y":73},{"s":29,"x":848,"y":77},{"s":29,"x":1179,"y":80.5},{"s":29,"x":1638,"y":83.3},{"s":29,"x":2276,"y":85.5},{"s":29,"x":3162,"y":87},{"s":29,"x":4394,"y":88},{"s":29,"x":6105,"y":88.7},{"s":29,"x":8483,"y":89.2},{"s":29,"x":11788,"y":89.6},{"s":29,"x":16379,"y":90},{"s":29,"x":22758,"y":99},
{"s":30,"x":0.0061,"y":2},{"s":30,"x":0.0085,"y":2},{"s":30,"x":0.0118,"y":2.1},{"s":30,"x":0.0164,"y":2.1},{"s":30,"x":0.0228,"y":2.1},{"s":30,"x":0.0316,"y":2.2},{"s":30,"x":0.0439,"y":2.2},{"s":30,"x":0.061,"y":2.3},{"s":30,"x":0.0848,"y":2.4},{"s":30,"x":0.118,"y":2.5},{"s":30,"x":0.164,"y":2.7},{"s":30,"x":0.228,"y":3.1},{"s":30,"x":0.316,"y":3.7},{"s":30,"x":0.439,"y":4.5},{"s":30,"x":0.61,"y":5.6},{"s":30,"x":0.848,"y":7},{"s":30,"x":1.18,"y":8.7},{"s":30,"x":1.64,"y":10.8},{"s":30,"x":2.28,"y":13.3},{"s":30,"x":3.16,"y":16.2},{"s":30,"x":4.39,"y":19.5},{"s":30,"x":6.1,"y":23.2},{"s":30,"x":8.48,"y":27.3},{"s":30,"x":11.8,"y":31.7},{"s":30,"x":16.4,"y":36.3},{"s":30,"x":22.8,"y":41},{"s":30,"x":31.6,"y":45.8},{"s":30,"x":43.9,"y":50.5},{"s":30,"x":61,"y":55},{"s":30,"x":84.8,"y":59.2},{"s":30,"x":118,"y":63},{"s":30,"x":164,"y":66.3},{"s":30,"x":228,"y":69},{"s":30,"x":316,"y":71},{"s":30,"x":439,"y":72.5},{"s":30,"x":610,"y":73.6},{"s":30,"x":848,"y":74.4},{"s":30,"x":1179,"y":75},{"s":30,"x":1638,"y":75.4},{"s":30,"x":2276,"y":75.7},{"s":30,"x":3162,"y":76},{"s":30,"x":4394,"y":76.2},{"s":30,"x":6105,"y":76.4},{"s":30,"x":8483,"y":97},{"s":30,"x":11788,"y":98.8},{"s":30,"x":16379,"y":99.4},{"s":30,"x":22758,"y":99.7},
{"s":31,"x":0.0061,"y":0.8},{"s":31,"x":0.0085,"y":0.8},{"s":31,"x":0.0118,"y":0.8},{"s":31,"x":0.0164,"y":0.9},{"s":31,"x":0.0228,"y":0.9},{"s":31,"x":0.0316,"y":0.9},{"s":31,"x":0.0439,"y":1},{"s":31,"x":0.061,"y":1},{"s":31,"x":0.0848,"y":1.1},{"s":31,"x":0.118,"y":1.2},{"s":31,"x":0.164,"y":1.3},{"s":31,"x":0.228,"y":1.6},{"s":31,"x":0.316,"y":2},{"s":31,"x":0.439,"y":2.5},{"s":31,"x":0.61,"y":3.2},{"s":31,"x":0.848,"y":4.1},{"s":31,"x":1.18,"y":5.2},{"s":31,"x":1.64,"y":6.6},{"s":31,"x":2.28,"y":8.3},{"s":31,"x":3.16,"y":10.3},{"s":31,"x":4.39,"y":12.7},{"s":31,"x":6.1,"y":15.5},{"s":31,"x":8.48,"y":18.8},{"s":31,"x":11.8,"y":22.5},{"s":31,"x":16.4,"y":26.5},{"s":31,"x":22.8,"y":31},{"s":31,"x":31.6,"y":35.5},{"s":31,"x":43.9,"y":40},{"s":31,"x":61,"y":44.5},{"s":31,"x":84.8,"y":48.8},{"s":31,"x":118,"y":52.8},{"s":31,"x":164,"y":56.3},{"s":31,"x":228,"y":59.3},{"s":31,"x":316,"y":61.7},{"s":31,"x":439,"y":63.5},{"s":31,"x":610,"y":64.8},{"s":31,"x":848,"y":65.7},{"s":31,"x":1179,"y":66.3},{"s":31,"x":1638,"y":66.7},{"s":31,"x":2276,"y":67},{"s":31,"x":3162,"y":67.2},{"s":31,"x":4394,"y":98},{"s":31,"x":6105,"y":99.2},{"s":31,"x":8483,"y":99.6},{"s":31,"x":11788,"y":99.8},{"s":31,"x":16379,"y":99.9},{"s":31,"x":22758,"y":99.9},
{"s":32,"x":0.0061,"y":1.5},{"s":32,"x":0.0085,"y":1.5},{"s":32,"x":0.0118,"y":1.6},{"s":32,"x":0.0164,"y":1.6},{"s":32,"x":0.0228,"y":1.6},{"s":32,"x":0.0316,"y":1.7},{"s":32,"x":0.0439,"y":1.7},{"s":32,"x":0.061,"y":1.8},{"s":32,"x":0.0848,"y":1.8},{"s":32,"x":0.118,"y":1.9},{"s":32,"x":0.164,"y":2.1},{"s":32,"x":0.228,"y":2.5},{"s":32,"x":0.316,"y":3},{"s":32,"x":0.439,"y":3.7},{"s":32,"x":0.61,"y":4.6},{"s":32,"x":0.848,"y":5.7},{"s":32,"x":1.18,"y":7.1},{"s":32,"x":1.64,"y":8.8},{"s":32,"x":2.28,"y":10.9},{"s":32,"x":3.16,"y":13.4},{"s":32,"x":4.39,"y":16.3},{"s":32,"x":6.1,"y":19.7},{"s":32,"x":8.48,"y":23.6},{"s":32,"x":11.8,"y":28},{"s":32,"x":16.4,"y":32.8},{"s":32,"x":22.8,"y":38},{"s":32,"x":31.6,"y":43.5},{"s":32,"x":43.9,"y":49},{"s":32,"x":61,"y":54.5},{"s":32,"x":84.8,"y":59.7},{"s":32,"x":118,"y":64.5},{"s":32,"x":164,"y":68.8},{"s":32,"x":228,"y":72.5},{"s":32,"x":316,"y":75.5},{"s":32,"x":439,"y":78},{"s":32,"x":610,"y":80},{"s":32,"x":848,"y":81.5},{"s":32,"x":1179,"y":82.5},{"s":32,"x":1638,"y":83.2},{"s":32,"x":2276,"y":83.7},{"s":32,"x":3162,"y":84},{"s":32,"x":4394,"y":84.2},{"s":32,"x":6105,"y":84.4},{"s":32,"x":8483,"y":84.6},{"s":32,"x":11788,"y":84.8},{"s":32,"x":16379,"y":96},{"s":32,"x":22758,"y":99},
{"s":33,"x":0.0061,"y":0.3},{"s":33,"x":0.0085,"y":0.3},{"s":33,"x":0.0118,"y":0.3},{"s":33,"x":0.0164,"y":0.35},{"s":33,"x":0.0228,"y":0.35},{"s":33,"x":0.0316,"y":0.35},{"s":33,"x":0.0439,"y":0.4},{"s":33,"x":0.061,"y":0.4},{"s":33,"x":0.0848,"y":0.45},{"s":33,"x":0.118,"y":0.5},{"s":33,"x":0.164,"y":0.55},{"s":33,"x":0.228,"y":0.7},{"s":33,"x":0.316,"y":0.9},{"s":33,"x":0.439,"y":1.2},{"s":33,"x":0.61,"y":1.5},{"s":33,"x":0.848,"y":2},{"s":33,"x":1.18,"y":2.6},{"s":33,"x":1.64,"y":3.3},{"s":33,"x":2.28,"y":4.2},{"s":33,"x":3.16,"y":5.3},{"s":33,"x":4.39,"y":6.6},{"s":33,"x":6.1,"y":8.2},{"s":33,"x":8.48,"y":10.1},{"s":33,"x":11.8,"y":12.3},{"s":33,"x":16.4,"y":14.8},{"s":33,"x":22.8,"y":17.6},{"s":33,"x":31.6,"y":20.7},{"s":33,"x":43.9,"y":24},{"s":33,"x":61,"y":27.4},{"s":33,"x":84.8,"y":30.8},{"s":33,"x":118,"y":34},{"s":33,"x":164,"y":37},{"s":33,"x":228,"y":39.6},{"s":33,"x":316,"y":41.8},{"s":33,"x":439,"y":43.5},{"s":33,"x":610,"y":44.8},{"s":33,"x":848,"y":45.7},{"s":33,"x":1179,"y":46.3},{"s":33,"x":1638,"y":46.7},{"s":33,"x":2276,"y":47},{"s":33,"x":3162,"y":47.2},{"s":33,"x":4394,"y":47.4},{"s":33,"x":6105,"y":97.5},{"s":33,"x":8483,"y":99},{"s":33,"x":11788,"y":99.5},{"s":33,"x":16379,"y":99.7},{"s":33,"x":22758,"y":99.8},
{"s":34,"x":0.0061,"y":1.7},{"s":34,"x":0.0085,"y":1.7},{"s":34,"x":0.0118,"y":1.7},{"s":34,"x":0.0164,"y":1.8},{"s":34,"x":0.0228,"y":1.8},{"s":34,"x":0.0316,"y":1.8},{"s":34,"x":0.0439,"y":1.9},{"s":34,"x":0.061,"y":1.9},{"s":34,"x":0.0848,"y":2},{"s":34,"x":0.118,"y":2.1},{"s":34,"x":0.164,"y":2.3},{"s":34,"x":0.228,"y":2.6},{"s":34,"x":0.316,"y":3.1},{"s":34,"x":0.439,"y":3.7},{"s":34,"x":0.61,"y":4.5},{"s":34,"x":0.848,"y":5.5},{"s":34,"x":1.18,"y":6.7},{"s":34,"x":1.64,"y":8.1},{"s":34,"x":2.28,"y":9.7},{"s":34,"x":3.16,"y":11.5},{"s":34,"x":4.39,"y":13.5},{"s":34,"x":6.1,"y":15.7},{"s":34,"x":8.48,"y":18},{"s":34,"x":11.8,"y":20.4},{"s":34,"x":16.4,"y":22.8},{"s":34,"x":22.8,"y":25.2},{"s":34,"x":31.6,"y":27.5},{"s":34,"x":43.9,"y":29.6},{"s":34,"x":61,"y":31.5},{"s":34,"x":84.8,"y":33.1},{"s":34,"x":118,"y":34.4},{"s":34,"x":164,"y":35.5},{"s":34,"x":228,"y":36.3},{"s":34,"x":316,"y":36.9},{"s":34,"x":439,"y":37.3},{"s":34,"x":610,"y":37.6},{"s":34,"x":848,"y":37.8},{"s":34,"x":1179,"y":38},{"s":34,"x":1638,"y":38.1},{"s":34,"x":2276,"y":38.2},{"s":34,"x":3162,"y":38.3},{"s":34,"x":4394,"y":38.4},{"s":34,"x":6105,"y":38.5},{"s":34,"x":8483,"y":38.6},{"s":34,"x":11788,"y":38.7},{"s":34,"x":16379,"y":38.8},{"s":34,"x":22758,"y":80},
{"s":35,"x":0.0061,"y":0.4},{"s":35,"x":0.0085,"y":0.4},{"s":35,"x":0.0118,"y":0.4},{"s":35,"x":0.0164,"y":0.45},{"s":35,"x":0.0228,"y":0.45},{"s":35,"x":0.0316,"y":0.5},{"s":35,"x":0.0439,"y":0.5},{"s":35,"x":0.061,"y":0.55},{"s":35,"x":0.0848,"y":0.6},{"s":35,"x":0.118,"y":0.65},{"s":35,"x":0.164,"y":0.75},{"s":35,"x":0.228,"y":0.9},{"s":35,"x":0.316,"y":1.1},{"s":35,"x":0.439,"y":1.4},{"s":35,"x":0.61,"y":1.8},{"s":35,"x":0.848,"y":2.3},{"s":35,"x":1.18,"y":2.9},{"s":35,"x":1.64,"y":3.7},{"s":35,"x":2.28,"y":4.6},{"s":35,"x":3.16,"y":5.7},{"s":35,"x":4.39,"y":7},{"s":35,"x":6.1,"y":8.5},{"s":35,"x":8.48,"y":10.3},{"s":35,"x":11.8,"y":12.4},{"s":35,"x":16.4,"y":14.8},{"s":35,"x":22.8,"y":17.5},{"s":35,"x":31.6,"y":20.5},{"s":35,"x":43.9,"y":23.8},{"s":35,"x":61,"y":27.3},{"s":35,"x":84.8,"y":31},{"s":35,"x":118,"y":34.8},{"s":35,"x":164,"y":38.5},{"s":35,"x":228,"y":42},{"s":35,"x":316,"y":45.2},{"s":35,"x":439,"y":48},{"s":35,"x":610,"y":50.3},{"s":35,"x":848,"y":52.1},{"s":35,"x":1179,"y":53.5},{"s":35,"x":1638,"y":54.5},{"s":35,"x":2276,"y":55.2},{"s":35,"x":3162,"y":55.7},{"s":35,"x":4394,"y":56},{"s":35,"x":6105,"y":56.3},{"s":35,"x":8483,"y":56.5},{"s":35,"x":11788,"y":56.7},{"s":35,"x":16379,"y":97},{"s":35,"x":22758,"y":99},
{"s":36,"x":0.0061,"y":1},{"s":36,"x":0.0085,"y":1},{"s":36,"x":0.0118,"y":1},{"s":36,"x":0.0164,"y":1},{"s":36,"x":0.0228,"y":1.1},{"s":36,"x":0.0316,"y":1.1},{"s":36,"x":0.0439,"y":1.1},{"s":36,"x":0.061,"y":1.2},{"s":36,"x":0.0848,"y":1.2},{"s":36,"x":0.118,"y":1.3},{"s":36,"x":0.164,"y":1.4},{"s":36,"x":0.228,"y":1.6},{"s":36,"x":0.316,"y":1.9},{"s":36,"x":0.439,"y":2.3},{"s":36,"x":0.61,"y":2.8},{"s":36,"x":0.848,"y":3.4},{"s":36,"x":1.18,"y":4.1},{"s":36,"x":1.64,"y":5},{"s":36,"x":2.28,"y":6},{"s":36,"x":3.16,"y":7.1},{"s":36,"x":4.39,"y":8.4},{"s":36,"x":6.1,"y":9.8},{"s":36,"x":8.48,"y":11.3},{"s":36,"x":11.8,"y":12.9},{"s":36,"x":16.4,"y":14.6},{"s":36,"x":22.8,"y":16.3},{"s":36,"x":31.6,"y":18},{"s":36,"x":43.9,"y":19.6},{"s":36,"x":61,"y":21},{"s":36,"x":84.8,"y":22.2},{"s":36,"x":118,"y":23.2},{"s":36,"x":164,"y":24},{"s":36,"x":228,"y":24.6},{"s":36,"x":316,"y":25.1},{"s":36,"x":439,"y":25.5},{"s":36,"x":610,"y":25.8},{"s":36,"x":848,"y":26},{"s":36,"x":1179,"y":26.2},{"s":36,"x":1638,"y":96},{"s":36,"x":2276,"y":98.8},{"s":36,"x":3162,"y":99.4},{"s":36,"x":4394,"y":99.6},{"s":36,"x":6105,"y":99.8},{"s":36,"x":8483,"y":99.9},{"s":36,"x":11788,"y":99.9},{"s":36,"x":16379,"y":100},{"s":36,"x":22758,"y":100}
]
},
"layer": [
{
"data": {"name": "streams"},
"mark": {"type": "line", "strokeWidth": 1, "clip": true, "point": {"shape": "M-1,0L1,0M0,-1L0,1", "size": 64, "filled": false, "strokeWidth": 1, "opacity": 1, "clip": true}},
"encoding": {
"x": {"field": "x", "type": "quantitative", "scale": {"type": "log", "domain": [0.00498, 26690], "nice": false},
 "axis": {"orient": "bottom", "title": "stream lifetime (s)",
  "values": [0.006,0.007,0.008,0.009,0.01,0.02,0.03,0.04,0.05,0.06,0.07,0.08,0.09,0.1,0.2,0.3,0.4,0.5,0.6,0.7,0.8,0.9,1,2,3,4,5,6,7,8,9,10,20,30,40,50,60,70,80,90,100,200,300,400,500,600,700,800,900,1000,2000,3000,4000,5000,6000,7000,8000,9000,10000,20000],
  "labelExpr": "indexof([0.01,0.1,1,10,100,1000,10000], datum.value) >= 0 ? '' + datum.value : ''",
  "labelFont": "Liberation Sans", "labelFontSize": 17.5, "labelColor": "#000", "labelPadding": 20, "labelFlush": false, "labelOverlap": false, "labelBound": false,
  "tickSize": {"condition": {"test": "indexof([0.01,0.1,1,10,100,1000,10000], datum.value) >= 0", "value": -8}, "value": -4.5},
  "tickColor": "#000", "tickWidth": 1,
  "grid": true, "gridColor": "#000", "gridDash": [1, 2], "gridWidth": 1,
  "gridOpacity": {"condition": {"test": "indexof([0.01,0.1,1,10,100,1000,10000], datum.value) >= 0", "value": 1}, "value": 0},
  "domain": true, "domainColor": "#000", "domainWidth": 1,
  "titleFont": "Liberation Sans", "titleFontSize": 17.5, "titleFontWeight": "normal", "titleColor": "#000",
  "titleAlign": "right", "titleAnchor": "end", "titleX": 811, "titleY": 45, "titleBaseline": "alphabetic"}},
"y": {"field": "y", "type": "quantitative", "scale": {"domain": [0, 100], "nice": false, "zero": false},
 "axis": {"orient": "left", "title": null, "values": [0,10,20,30,40,50,60,70,80,90,100],
  "labelExpr": "datum.value == 100 ? '% 100' : datum.label",
  "labelFont": "Liberation Sans", "labelFontSize": 17.5, "labelColor": "#000", "labelPadding": 19,
  "tickSize": -8, "tickColor": "#000", "tickWidth": 1,
  "grid": true, "gridColor": "#000", "gridDash": [1, 2], "gridWidth": 1,
  "gridOpacity": {"condition": {"test": "datum.value == 0 || datum.value == 100", "value": 0}, "value": 1},
  "domain": true, "domainColor": "#000", "domainWidth": 1}},
"detail": {"field": "s", "type": "nominal"},
"color": {"datum": "inbound streams total",
 "scale": {"domain": ["inbound streams total", "inbound bytes total"], "range": ["#ff0000", "#00ff00"]},
 "legend": {"orient": "none", "legendX": 270, "legendY": 9, "title": null, "padding": 0,
  "labelFont": "Liberation Sans", "labelFontSize": 17.5, "labelAlign": "right", "labelOffset": -51, "labelLimit": 0,
  "symbolSize": 64, "rowPadding": 1,
  "encode": {
   "symbols": {"update": {
     "shape": {"signal": "datum.value === 'inbound streams total' ? 'M-6.25,0L6.25,0M0,-1L0,1' : 'M-6.25,0L6.25,0M-0.8,-0.8L0.8,0.8M-0.8,0.8L0.8,-0.8'"},
     "stroke": {"signal": "datum.value === 'inbound streams total' ? '#ff0000' : '#00ff00'"},
     "fill": {"value": "transparent"}, "strokeWidth": {"value": 1}, "size": {"value": 64}, "opacity": {"value": 1}}},
   "labels": {"update": {"fill": {"signal": "datum.value === 'inbound streams total' ? '#ff0000' : '#00ff00'"}}}
  }}}
}
},
{
"data": {"name": "bytes"},
"mark": {"type": "line", "strokeWidth": 1, "clip": true, "point": {"shape": "M-1,-1L1,1M-1,1L1,-1", "size": 64, "filled": false, "strokeWidth": 1, "opacity": 1, "clip": true}},
"encoding": {
"x": {"field": "x", "type": "quantitative", "scale": {"type": "log", "domain": [0.00498, 26690], "nice": false},
 "axis": {"orient": "top", "title": null, "labels": false,
  "values": [0.006,0.007,0.008,0.009,0.01,0.02,0.03,0.04,0.05,0.06,0.07,0.08,0.09,0.1,0.2,0.3,0.4,0.5,0.6,0.7,0.8,0.9,1,2,3,4,5,6,7,8,9,10,20,30,40,50,60,70,80,90,100,200,300,400,500,600,700,800,900,1000,2000,3000,4000,5000,6000,7000,8000,9000,10000,20000],
  "tickSize": {"condition": {"test": "indexof([0.01,0.1,1,10,100,1000,10000], datum.value) >= 0", "value": -8}, "value": -4.5},
  "tickColor": "#000", "tickWidth": 1, "grid": false,
  "domain": true, "domainColor": "#000", "domainWidth": 1}},
"y": {"field": "y", "type": "quantitative", "scale": {"domain": [0, 100], "nice": false, "zero": false}},
"detail": {"field": "s", "type": "nominal"},
"color": {"datum": "inbound bytes total"}
}
}
],
"resolve": {"axis": {"x": "independent"}}
}
